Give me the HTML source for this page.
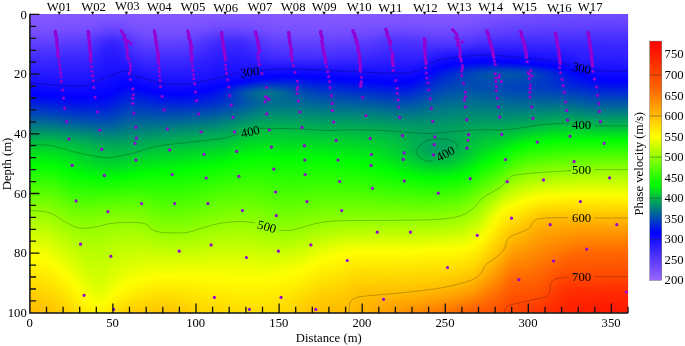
<!DOCTYPE html><html><head><meta charset="utf-8"><title>Phase velocity section</title>
<style>html,body{margin:0;padding:0;background:#fff}svg{display:block}text{font-family:"Liberation Serif", "DejaVu Serif", serif;font-size:12.7px;fill:#000}</style></head><body>
<svg width="685" height="346" viewBox="0 0 685 346">
<defs>
<clipPath id="pc"><rect x="29.9" y="14.1" width="598.2" height="298.7"/></clipPath>
<filter id="hb" x="-5%" y="-5%" width="110%" height="110%" color-interpolation-filters="sRGB"><feGaussianBlur stdDeviation="3 0"/></filter>
<linearGradient id="cb" x1="0" y1="0" x2="0" y2="1"><stop offset="0" stop-color="rgb(255,0,0)"/><stop offset="0.2" stop-color="rgb(255,102,0)"/><stop offset="0.4" stop-color="rgb(255,255,0)"/><stop offset="0.6" stop-color="rgb(0,255,0)"/><stop offset="0.8" stop-color="rgb(0,0,255)"/><stop offset="1" stop-color="rgb(153,102,255)"/></linearGradient>
<linearGradient id="c0" x1="0" y1="0" x2="0" y2="1"><stop offset="0" stop-color="#8559ff"/><stop offset="0.0297" stop-color="#8256ff"/><stop offset="0.0693" stop-color="#754eff"/><stop offset="0.1584" stop-color="#3d29ff"/><stop offset="0.2277" stop-color="#1a11ff"/><stop offset="0.2706" stop-color="#0100ff"/><stop offset="0.2871" stop-color="#0010ef"/><stop offset="0.3333" stop-color="#0044bb"/><stop offset="0.429" stop-color="#00bb44"/><stop offset="0.4554" stop-color="#00d52a"/><stop offset="0.5017" stop-color="#00ff00"/><stop offset="0.604" stop-color="#64ff00"/><stop offset="0.6535" stop-color="#91ff00"/><stop offset="0.7228" stop-color="#c9ff00"/><stop offset="0.7987" stop-color="#ffff00"/><stop offset="0.9274" stop-color="#ffce00"/><stop offset="0.9835" stop-color="#ffbc00"/><stop offset="1" stop-color="#ffb900"/></linearGradient>
<linearGradient id="c1" x1="0" y1="0" x2="0" y2="1"><stop offset="0" stop-color="#8559ff"/><stop offset="0.0297" stop-color="#8256ff"/><stop offset="0.0693" stop-color="#754eff"/><stop offset="0.1584" stop-color="#3d29ff"/><stop offset="0.2277" stop-color="#1a11ff"/><stop offset="0.2706" stop-color="#0100ff"/><stop offset="0.2871" stop-color="#0010ef"/><stop offset="0.3333" stop-color="#0044bb"/><stop offset="0.429" stop-color="#00bb44"/><stop offset="0.4554" stop-color="#00d52a"/><stop offset="0.5017" stop-color="#00ff00"/><stop offset="0.604" stop-color="#64ff00"/><stop offset="0.6535" stop-color="#91ff00"/><stop offset="0.7228" stop-color="#c9ff00"/><stop offset="0.7987" stop-color="#ffff00"/><stop offset="0.9307" stop-color="#ffcd00"/><stop offset="0.9835" stop-color="#ffbc00"/><stop offset="1" stop-color="#ffb900"/></linearGradient>
<linearGradient id="c2" x1="0" y1="0" x2="0" y2="1"><stop offset="0" stop-color="#8559ff"/><stop offset="0.0297" stop-color="#8256ff"/><stop offset="0.0693" stop-color="#754eff"/><stop offset="0.1584" stop-color="#3d29ff"/><stop offset="0.2277" stop-color="#1a11ff"/><stop offset="0.2706" stop-color="#0101ff"/><stop offset="0.2739" stop-color="#0002fd"/><stop offset="0.2871" stop-color="#0010ef"/><stop offset="0.3333" stop-color="#0044bb"/><stop offset="0.429" stop-color="#00bb44"/><stop offset="0.4554" stop-color="#00d629"/><stop offset="0.5017" stop-color="#00ff00"/><stop offset="0.604" stop-color="#64ff00"/><stop offset="0.6535" stop-color="#91ff00"/><stop offset="0.7228" stop-color="#c8ff00"/><stop offset="0.7987" stop-color="#feff00"/><stop offset="0.9307" stop-color="#ffce00"/><stop offset="0.9835" stop-color="#ffbc00"/><stop offset="1" stop-color="#ffb900"/></linearGradient>
<linearGradient id="c3" x1="0" y1="0" x2="0" y2="1"><stop offset="0" stop-color="#8559ff"/><stop offset="0.0297" stop-color="#8256ff"/><stop offset="0.0693" stop-color="#744eff"/><stop offset="0.1584" stop-color="#3d29ff"/><stop offset="0.2277" stop-color="#1a11ff"/><stop offset="0.2706" stop-color="#0101ff"/><stop offset="0.2739" stop-color="#0001fe"/><stop offset="0.3399" stop-color="#004bb4"/><stop offset="0.429" stop-color="#00bb44"/><stop offset="0.4554" stop-color="#00d629"/><stop offset="0.5017" stop-color="#00ff00"/><stop offset="0.6073" stop-color="#67ff00"/><stop offset="0.6535" stop-color="#90ff00"/><stop offset="0.7228" stop-color="#c7ff00"/><stop offset="0.802" stop-color="#ffff00"/><stop offset="0.934" stop-color="#ffce00"/><stop offset="0.9868" stop-color="#ffbc00"/><stop offset="1" stop-color="#ffba00"/></linearGradient>
<linearGradient id="c4" x1="0" y1="0" x2="0" y2="1"><stop offset="0" stop-color="#8559ff"/><stop offset="0.0297" stop-color="#8156ff"/><stop offset="0.0693" stop-color="#744dff"/><stop offset="0.1551" stop-color="#3e2aff"/><stop offset="0.231" stop-color="#1911ff"/><stop offset="0.2739" stop-color="#0000ff"/><stop offset="0.3399" stop-color="#004ab5"/><stop offset="0.429" stop-color="#00bd42"/><stop offset="0.4554" stop-color="#00d728"/><stop offset="0.5017" stop-color="#00ff00"/><stop offset="0.6106" stop-color="#69ff00"/><stop offset="0.6568" stop-color="#92ff00"/><stop offset="0.7261" stop-color="#c7ff00"/><stop offset="0.8086" stop-color="#ffff00"/><stop offset="0.9373" stop-color="#ffcf00"/><stop offset="0.9868" stop-color="#ffbe00"/><stop offset="1" stop-color="#ffbc00"/></linearGradient>
<linearGradient id="c5" x1="0" y1="0" x2="0" y2="1"><stop offset="0" stop-color="#8559ff"/><stop offset="0.0297" stop-color="#8156ff"/><stop offset="0.066" stop-color="#754eff"/><stop offset="0.1551" stop-color="#3e29ff"/><stop offset="0.231" stop-color="#1911ff"/><stop offset="0.2739" stop-color="#0101ff"/><stop offset="0.2772" stop-color="#0002fd"/><stop offset="0.2937" stop-color="#0013ec"/><stop offset="0.3366" stop-color="#0045ba"/><stop offset="0.4125" stop-color="#00aa55"/><stop offset="0.4323" stop-color="#00c13e"/><stop offset="0.4554" stop-color="#00d827"/><stop offset="0.5017" stop-color="#00fe01"/><stop offset="0.5281" stop-color="#17ff00"/><stop offset="0.6172" stop-color="#6dff00"/><stop offset="0.6601" stop-color="#92ff00"/><stop offset="0.7228" stop-color="#c1ff00"/><stop offset="0.8152" stop-color="#ffff00"/><stop offset="0.9538" stop-color="#ffcc00"/><stop offset="0.9868" stop-color="#ffc100"/><stop offset="1" stop-color="#ffbf00"/></linearGradient>
<linearGradient id="c6" x1="0" y1="0" x2="0" y2="1"><stop offset="0" stop-color="#8559ff"/><stop offset="0.0297" stop-color="#8156ff"/><stop offset="0.066" stop-color="#744dff"/><stop offset="0.1551" stop-color="#3d29ff"/><stop offset="0.231" stop-color="#1a11ff"/><stop offset="0.2772" stop-color="#0000ff"/><stop offset="0.3102" stop-color="#0024db"/><stop offset="0.3432" stop-color="#004bb4"/><stop offset="0.4125" stop-color="#00aa55"/><stop offset="0.4323" stop-color="#00c23d"/><stop offset="0.4554" stop-color="#00d827"/><stop offset="0.505" stop-color="#00ff00"/><stop offset="0.5347" stop-color="#1aff00"/><stop offset="0.6172" stop-color="#69ff00"/><stop offset="0.6667" stop-color="#93ff00"/><stop offset="0.7294" stop-color="#c0ff00"/><stop offset="0.8251" stop-color="#feff00"/><stop offset="0.9802" stop-color="#ffc600"/><stop offset="1" stop-color="#ffc200"/></linearGradient>
<linearGradient id="c7" x1="0" y1="0" x2="0" y2="1"><stop offset="0" stop-color="#8559ff"/><stop offset="0.0264" stop-color="#8256ff"/><stop offset="0.0627" stop-color="#754eff"/><stop offset="0.1551" stop-color="#3c28ff"/><stop offset="0.2343" stop-color="#1910ff"/><stop offset="0.2772" stop-color="#0101ff"/><stop offset="0.2805" stop-color="#0002fd"/><stop offset="0.3003" stop-color="#0016e9"/><stop offset="0.3399" stop-color="#0044bb"/><stop offset="0.3663" stop-color="#006798"/><stop offset="0.4125" stop-color="#00a857"/><stop offset="0.4323" stop-color="#00c03f"/><stop offset="0.4587" stop-color="#00d827"/><stop offset="0.5116" stop-color="#00ff00"/><stop offset="0.6205" stop-color="#65ff00"/><stop offset="0.6733" stop-color="#91ff00"/><stop offset="0.7327" stop-color="#bbff00"/><stop offset="0.8383" stop-color="#fdff00"/><stop offset="0.8416" stop-color="#ffff00"/><stop offset="0.9835" stop-color="#ffc900"/><stop offset="1" stop-color="#ffc600"/></linearGradient>
<linearGradient id="c8" x1="0" y1="0" x2="0" y2="1"><stop offset="0" stop-color="#8559ff"/><stop offset="0.0264" stop-color="#8156ff"/><stop offset="0.0594" stop-color="#754eff"/><stop offset="0.1518" stop-color="#3c28ff"/><stop offset="0.2343" stop-color="#1911ff"/><stop offset="0.2805" stop-color="#0000ff"/><stop offset="0.3102" stop-color="#001ee1"/><stop offset="0.3432" stop-color="#0045ba"/><stop offset="0.3663" stop-color="#00639c"/><stop offset="0.4125" stop-color="#00a55a"/><stop offset="0.4323" stop-color="#00bd42"/><stop offset="0.4554" stop-color="#00d22d"/><stop offset="0.5182" stop-color="#00fe01"/><stop offset="0.5413" stop-color="#13ff00"/><stop offset="0.6304" stop-color="#65ff00"/><stop offset="0.6832" stop-color="#90ff00"/><stop offset="0.7426" stop-color="#b9ff00"/><stop offset="0.8548" stop-color="#fdff00"/><stop offset="0.8581" stop-color="#ffff00"/><stop offset="0.9868" stop-color="#ffcd00"/><stop offset="1" stop-color="#ffcb00"/></linearGradient>
<linearGradient id="c9" x1="0" y1="0" x2="0" y2="1"><stop offset="0" stop-color="#8559ff"/><stop offset="0.0231" stop-color="#8257ff"/><stop offset="0.0561" stop-color="#764eff"/><stop offset="0.1089" stop-color="#5337ff"/><stop offset="0.1485" stop-color="#3c28ff"/><stop offset="0.2376" stop-color="#1810ff"/><stop offset="0.2838" stop-color="#0000ff"/><stop offset="0.3135" stop-color="#001fe0"/><stop offset="0.3432" stop-color="#0041be"/><stop offset="0.3663" stop-color="#005fa0"/><stop offset="0.4125" stop-color="#00a15e"/><stop offset="0.4356" stop-color="#00bd42"/><stop offset="0.4587" stop-color="#00d12e"/><stop offset="0.5248" stop-color="#00fd02"/><stop offset="0.5413" stop-color="#0cff00"/><stop offset="0.6403" stop-color="#66ff00"/><stop offset="0.6964" stop-color="#92ff00"/><stop offset="0.7525" stop-color="#b7ff00"/><stop offset="0.8779" stop-color="#ffff00"/><stop offset="0.9868" stop-color="#ffd400"/><stop offset="1" stop-color="#ffd200"/></linearGradient>
<linearGradient id="c10" x1="0" y1="0" x2="0" y2="1"><stop offset="0" stop-color="#8559ff"/><stop offset="0.0231" stop-color="#8257ff"/><stop offset="0.0561" stop-color="#754eff"/><stop offset="0.1089" stop-color="#5237ff"/><stop offset="0.1485" stop-color="#3c28ff"/><stop offset="0.2376" stop-color="#1810ff"/><stop offset="0.2838" stop-color="#0100ff"/><stop offset="0.3069" stop-color="#0015ea"/><stop offset="0.3432" stop-color="#003ec1"/><stop offset="0.3696" stop-color="#00609f"/><stop offset="0.4125" stop-color="#009d62"/><stop offset="0.4356" stop-color="#00b946"/><stop offset="0.4554" stop-color="#00ca35"/><stop offset="0.505" stop-color="#00e916"/><stop offset="0.5314" stop-color="#00fd02"/><stop offset="0.538" stop-color="#04ff00"/><stop offset="0.6238" stop-color="#52ff00"/><stop offset="0.6733" stop-color="#7bff00"/><stop offset="0.7195" stop-color="#9cff00"/><stop offset="0.769" stop-color="#b9ff00"/><stop offset="0.901" stop-color="#ffff00"/><stop offset="0.9868" stop-color="#ffdd00"/><stop offset="1" stop-color="#ffda00"/></linearGradient>
<linearGradient id="c11" x1="0" y1="0" x2="0" y2="1"><stop offset="0" stop-color="#8559ff"/><stop offset="0.0264" stop-color="#8156ff"/><stop offset="0.0594" stop-color="#744eff"/><stop offset="0.1089" stop-color="#5438ff"/><stop offset="0.1485" stop-color="#3d28ff"/><stop offset="0.2376" stop-color="#1810ff"/><stop offset="0.2838" stop-color="#0000ff"/><stop offset="0.3135" stop-color="#001ce3"/><stop offset="0.3465" stop-color="#0041be"/><stop offset="0.3696" stop-color="#005ea1"/><stop offset="0.4125" stop-color="#009a65"/><stop offset="0.4356" stop-color="#00b54a"/><stop offset="0.4554" stop-color="#00c639"/><stop offset="0.505" stop-color="#00e51a"/><stop offset="0.538" stop-color="#00fe01"/><stop offset="0.6205" stop-color="#4cff00"/><stop offset="0.6601" stop-color="#6eff00"/><stop offset="0.703" stop-color="#8eff00"/><stop offset="0.7426" stop-color="#a6ff00"/><stop offset="0.8746" stop-color="#e5ff00"/><stop offset="0.9241" stop-color="#ffff00"/><stop offset="0.9868" stop-color="#ffe500"/><stop offset="1" stop-color="#ffe200"/></linearGradient>
<linearGradient id="c12" x1="0" y1="0" x2="0" y2="1"><stop offset="0" stop-color="#8559ff"/><stop offset="0.0231" stop-color="#8257ff"/><stop offset="0.0561" stop-color="#764eff"/><stop offset="0.1089" stop-color="#5337ff"/><stop offset="0.1485" stop-color="#3c28ff"/><stop offset="0.2343" stop-color="#1810ff"/><stop offset="0.2805" stop-color="#0101ff"/><stop offset="0.2838" stop-color="#0002fd"/><stop offset="0.3168" stop-color="#0021de"/><stop offset="0.3465" stop-color="#0041be"/><stop offset="0.3696" stop-color="#005da2"/><stop offset="0.4158" stop-color="#009b64"/><stop offset="0.4356" stop-color="#00b24d"/><stop offset="0.4587" stop-color="#00c53a"/><stop offset="0.5116" stop-color="#00e51a"/><stop offset="0.5413" stop-color="#00fe01"/><stop offset="0.6535" stop-color="#68ff00"/><stop offset="0.6898" stop-color="#84ff00"/><stop offset="0.7261" stop-color="#9bff00"/><stop offset="0.7756" stop-color="#b3ff00"/><stop offset="0.8911" stop-color="#e2ff00"/><stop offset="0.9472" stop-color="#ffff00"/><stop offset="0.9901" stop-color="#ffec00"/><stop offset="1" stop-color="#ffea00"/></linearGradient>
<linearGradient id="c13" x1="0" y1="0" x2="0" y2="1"><stop offset="0" stop-color="#8559ff"/><stop offset="0.0198" stop-color="#8257ff"/><stop offset="0.0528" stop-color="#744dff"/><stop offset="0.0693" stop-color="#6946ff"/><stop offset="0.1023" stop-color="#4f34ff"/><stop offset="0.1386" stop-color="#3b27ff"/><stop offset="0.231" stop-color="#170fff"/><stop offset="0.2805" stop-color="#0000ff"/><stop offset="0.3168" stop-color="#0021de"/><stop offset="0.3465" stop-color="#003fc0"/><stop offset="0.3696" stop-color="#005ba4"/><stop offset="0.4158" stop-color="#009768"/><stop offset="0.4356" stop-color="#00ad52"/><stop offset="0.4587" stop-color="#00c03f"/><stop offset="0.5083" stop-color="#00df20"/><stop offset="0.5446" stop-color="#00fe01"/><stop offset="0.6469" stop-color="#64ff00"/><stop offset="0.6832" stop-color="#81ff00"/><stop offset="0.7162" stop-color="#96ff00"/><stop offset="0.7723" stop-color="#b0ff00"/><stop offset="0.901" stop-color="#ddff00"/><stop offset="0.934" stop-color="#ecff00"/><stop offset="0.9637" stop-color="#feff00"/><stop offset="0.9901" stop-color="#fff200"/><stop offset="1" stop-color="#ffef00"/></linearGradient>
<linearGradient id="c14" x1="0" y1="0" x2="0" y2="1"><stop offset="0" stop-color="#8559ff"/><stop offset="0.0198" stop-color="#8156ff"/><stop offset="0.0528" stop-color="#6f4aff"/><stop offset="0.066" stop-color="#6543ff"/><stop offset="0.0957" stop-color="#472fff"/><stop offset="0.1155" stop-color="#3a27ff"/><stop offset="0.1584" stop-color="#2a1cff"/><stop offset="0.2277" stop-color="#150eff"/><stop offset="0.2805" stop-color="#0001fe"/><stop offset="0.3168" stop-color="#0020df"/><stop offset="0.3465" stop-color="#003ec1"/><stop offset="0.3696" stop-color="#0058a7"/><stop offset="0.4158" stop-color="#00936c"/><stop offset="0.4356" stop-color="#00a956"/><stop offset="0.4587" stop-color="#00bc43"/><stop offset="0.5083" stop-color="#00dc23"/><stop offset="0.5446" stop-color="#00fc03"/><stop offset="0.5479" stop-color="#01ff00"/><stop offset="0.6139" stop-color="#46ff00"/><stop offset="0.6502" stop-color="#68ff00"/><stop offset="0.6799" stop-color="#81ff00"/><stop offset="0.7096" stop-color="#94ff00"/><stop offset="0.769" stop-color="#afff00"/><stop offset="0.9043" stop-color="#daff00"/><stop offset="0.9406" stop-color="#ebff00"/><stop offset="0.9703" stop-color="#feff00"/><stop offset="0.9934" stop-color="#fff200"/><stop offset="1" stop-color="#fff100"/></linearGradient>
<linearGradient id="c15" x1="0" y1="0" x2="0" y2="1"><stop offset="0" stop-color="#8559ff"/><stop offset="0.0198" stop-color="#8055ff"/><stop offset="0.0495" stop-color="#6e49ff"/><stop offset="0.066" stop-color="#6040ff"/><stop offset="0.0957" stop-color="#3e29ff"/><stop offset="0.1122" stop-color="#3322ff"/><stop offset="0.1419" stop-color="#291bff"/><stop offset="0.2211" stop-color="#150eff"/><stop offset="0.2772" stop-color="#0001fe"/><stop offset="0.3135" stop-color="#001ee1"/><stop offset="0.3465" stop-color="#003dc2"/><stop offset="0.3696" stop-color="#0057a8"/><stop offset="0.4158" stop-color="#00906f"/><stop offset="0.4389" stop-color="#00a956"/><stop offset="0.4587" stop-color="#00b946"/><stop offset="0.5083" stop-color="#00d926"/><stop offset="0.5479" stop-color="#00fe01"/><stop offset="0.6139" stop-color="#47ff00"/><stop offset="0.6469" stop-color="#67ff00"/><stop offset="0.6799" stop-color="#83ff00"/><stop offset="0.7096" stop-color="#97ff00"/><stop offset="0.7657" stop-color="#b0ff00"/><stop offset="0.8977" stop-color="#dcff00"/><stop offset="0.9307" stop-color="#ecff00"/><stop offset="0.9604" stop-color="#feff00"/><stop offset="0.9901" stop-color="#fff000"/><stop offset="1" stop-color="#ffed00"/></linearGradient>
<linearGradient id="c16" x1="0" y1="0" x2="0" y2="1"><stop offset="0" stop-color="#8559ff"/><stop offset="0.0198" stop-color="#8055ff"/><stop offset="0.0528" stop-color="#6a46ff"/><stop offset="0.066" stop-color="#5d3eff"/><stop offset="0.0957" stop-color="#3a27ff"/><stop offset="0.1089" stop-color="#3121ff"/><stop offset="0.132" stop-color="#291bff"/><stop offset="0.2145" stop-color="#140eff"/><stop offset="0.2706" stop-color="#0000ff"/><stop offset="0.3102" stop-color="#001fe0"/><stop offset="0.3432" stop-color="#003dc2"/><stop offset="0.3696" stop-color="#0059a6"/><stop offset="0.4191" stop-color="#00936c"/><stop offset="0.4389" stop-color="#00a758"/><stop offset="0.4587" stop-color="#00b748"/><stop offset="0.5083" stop-color="#00d926"/><stop offset="0.5479" stop-color="#00ff00"/><stop offset="0.6139" stop-color="#48ff00"/><stop offset="0.6469" stop-color="#69ff00"/><stop offset="0.6799" stop-color="#85ff00"/><stop offset="0.7129" stop-color="#9bff00"/><stop offset="0.7657" stop-color="#b4ff00"/><stop offset="0.8845" stop-color="#e0ff00"/><stop offset="0.9439" stop-color="#ffff00"/><stop offset="0.9901" stop-color="#ffe700"/><stop offset="1" stop-color="#ffe500"/></linearGradient>
<linearGradient id="c17" x1="0" y1="0" x2="0" y2="1"><stop offset="0" stop-color="#8559ff"/><stop offset="0.0198" stop-color="#8055ff"/><stop offset="0.0528" stop-color="#6b47ff"/><stop offset="0.066" stop-color="#5f3fff"/><stop offset="0.0957" stop-color="#3c28ff"/><stop offset="0.1089" stop-color="#3322ff"/><stop offset="0.2013" stop-color="#160fff"/><stop offset="0.2607" stop-color="#0001fe"/><stop offset="0.3069" stop-color="#0024db"/><stop offset="0.3432" stop-color="#0044bb"/><stop offset="0.3696" stop-color="#005ea1"/><stop offset="0.4191" stop-color="#00956a"/><stop offset="0.4389" stop-color="#00a857"/><stop offset="0.505" stop-color="#00d827"/><stop offset="0.5446" stop-color="#00fd02"/><stop offset="0.5479" stop-color="#02ff00"/><stop offset="0.6139" stop-color="#49ff00"/><stop offset="0.6502" stop-color="#6dff00"/><stop offset="0.6832" stop-color="#89ff00"/><stop offset="0.7195" stop-color="#a0ff00"/><stop offset="0.7657" stop-color="#b7ff00"/><stop offset="0.8713" stop-color="#e2ff00"/><stop offset="0.9241" stop-color="#ffff00"/><stop offset="0.9868" stop-color="#ffdf00"/><stop offset="1" stop-color="#ffdc00"/></linearGradient>
<linearGradient id="c18" x1="0" y1="0" x2="0" y2="1"><stop offset="0" stop-color="#8559ff"/><stop offset="0.0198" stop-color="#8056ff"/><stop offset="0.0528" stop-color="#6d49ff"/><stop offset="0.066" stop-color="#6342ff"/><stop offset="0.0957" stop-color="#442dff"/><stop offset="0.1089" stop-color="#3a27ff"/><stop offset="0.1617" stop-color="#2619ff"/><stop offset="0.2475" stop-color="#0000ff"/><stop offset="0.3366" stop-color="#0046b9"/><stop offset="0.3663" stop-color="#00619e"/><stop offset="0.4323" stop-color="#00a45b"/><stop offset="0.5017" stop-color="#00d827"/><stop offset="0.5413" stop-color="#00fc03"/><stop offset="0.5446" stop-color="#01ff00"/><stop offset="0.6139" stop-color="#4bff00"/><stop offset="0.6535" stop-color="#71ff00"/><stop offset="0.6898" stop-color="#8eff00"/><stop offset="0.7261" stop-color="#a5ff00"/><stop offset="0.8548" stop-color="#e0ff00"/><stop offset="0.9109" stop-color="#fffe00"/><stop offset="0.9439" stop-color="#ffef00"/><stop offset="0.9868" stop-color="#ffd700"/><stop offset="1" stop-color="#ffd300"/></linearGradient>
<linearGradient id="c19" x1="0" y1="0" x2="0" y2="1"><stop offset="0" stop-color="#8559ff"/><stop offset="0.0198" stop-color="#8256ff"/><stop offset="0.0495" stop-color="#744dff"/><stop offset="0.066" stop-color="#6946ff"/><stop offset="0.0957" stop-color="#4f35ff"/><stop offset="0.1089" stop-color="#462eff"/><stop offset="0.1551" stop-color="#3020ff"/><stop offset="0.2442" stop-color="#0000ff"/><stop offset="0.3432" stop-color="#0051ae"/><stop offset="0.429" stop-color="#00a25d"/><stop offset="0.4983" stop-color="#00d827"/><stop offset="0.538" stop-color="#00fc03"/><stop offset="0.5413" stop-color="#00ff00"/><stop offset="0.6139" stop-color="#4cff00"/><stop offset="0.6568" stop-color="#74ff00"/><stop offset="0.6931" stop-color="#91ff00"/><stop offset="0.7327" stop-color="#a9ff00"/><stop offset="0.8482" stop-color="#e1ff00"/><stop offset="0.8977" stop-color="#feff00"/><stop offset="0.934" stop-color="#ffef00"/><stop offset="0.9868" stop-color="#ffd100"/><stop offset="1" stop-color="#ffcd00"/></linearGradient>
<linearGradient id="c20" x1="0" y1="0" x2="0" y2="1"><stop offset="0" stop-color="#8559ff"/><stop offset="0.0264" stop-color="#8156ff"/><stop offset="0.0627" stop-color="#724cff"/><stop offset="0.1056" stop-color="#5438ff"/><stop offset="0.2475" stop-color="#0000ff"/><stop offset="0.3531" stop-color="#005ba4"/><stop offset="0.4323" stop-color="#00a659"/><stop offset="0.4983" stop-color="#00db24"/><stop offset="0.5347" stop-color="#00fc03"/><stop offset="0.538" stop-color="#01ff00"/><stop offset="0.6139" stop-color="#4dff00"/><stop offset="0.6601" stop-color="#77ff00"/><stop offset="0.6997" stop-color="#95ff00"/><stop offset="0.7426" stop-color="#afff00"/><stop offset="0.8383" stop-color="#e0ff00"/><stop offset="0.8911" stop-color="#ffff00"/><stop offset="0.934" stop-color="#ffea00"/><stop offset="0.9868" stop-color="#ffcd00"/><stop offset="1" stop-color="#ffc900"/></linearGradient>
<linearGradient id="c21" x1="0" y1="0" x2="0" y2="1"><stop offset="0" stop-color="#8559ff"/><stop offset="0.0297" stop-color="#8156ff"/><stop offset="0.0693" stop-color="#724cff"/><stop offset="0.2112" stop-color="#1810ff"/><stop offset="0.2541" stop-color="#0001fe"/><stop offset="0.3531" stop-color="#005ca3"/><stop offset="0.4323" stop-color="#00a857"/><stop offset="0.5314" stop-color="#00fd02"/><stop offset="0.5347" stop-color="#01ff00"/><stop offset="0.637" stop-color="#61ff00"/><stop offset="0.6931" stop-color="#8fff00"/><stop offset="0.736" stop-color="#abff00"/><stop offset="0.8383" stop-color="#e2ff00"/><stop offset="0.8812" stop-color="#fdff00"/><stop offset="0.9241" stop-color="#ffec00"/><stop offset="0.9868" stop-color="#ffca00"/><stop offset="1" stop-color="#ffc600"/></linearGradient>
<linearGradient id="c22" x1="0" y1="0" x2="0" y2="1"><stop offset="0" stop-color="#8559ff"/><stop offset="0.0297" stop-color="#8156ff"/><stop offset="0.0693" stop-color="#744dff"/><stop offset="0.2574" stop-color="#0100ff"/><stop offset="0.3366" stop-color="#004cb3"/><stop offset="0.429" stop-color="#00a857"/><stop offset="0.5314" stop-color="#00ff00"/><stop offset="0.6271" stop-color="#55ff00"/><stop offset="0.6931" stop-color="#89ff00"/><stop offset="0.7393" stop-color="#a9ff00"/><stop offset="0.835" stop-color="#e2ff00"/><stop offset="0.8779" stop-color="#ffff00"/><stop offset="0.9241" stop-color="#ffea00"/><stop offset="0.9868" stop-color="#ffc900"/><stop offset="1" stop-color="#ffc500"/></linearGradient>
<linearGradient id="c23" x1="0" y1="0" x2="0" y2="1"><stop offset="0" stop-color="#8559ff"/><stop offset="0.033" stop-color="#8156ff"/><stop offset="0.0726" stop-color="#734dff"/><stop offset="0.1617" stop-color="#3b27ff"/><stop offset="0.264" stop-color="#0000ff"/><stop offset="0.4257" stop-color="#00a857"/><stop offset="0.4587" stop-color="#00c639"/><stop offset="0.5281" stop-color="#00fe01"/><stop offset="0.6337" stop-color="#55ff00"/><stop offset="0.7063" stop-color="#8cff00"/><stop offset="0.8746" stop-color="#ffff00"/><stop offset="0.9868" stop-color="#ffc700"/><stop offset="1" stop-color="#ffc400"/></linearGradient>
<linearGradient id="c24" x1="0" y1="0" x2="0" y2="1"><stop offset="0" stop-color="#8559ff"/><stop offset="0.0297" stop-color="#8256ff"/><stop offset="0.0693" stop-color="#754eff"/><stop offset="0.1584" stop-color="#3d29ff"/><stop offset="0.2673" stop-color="#0100ff"/><stop offset="0.2904" stop-color="#0017e8"/><stop offset="0.3927" stop-color="#008877"/><stop offset="0.4257" stop-color="#00ab54"/><stop offset="0.462" stop-color="#00cb34"/><stop offset="0.5281" stop-color="#00ff00"/><stop offset="0.7294" stop-color="#97ff00"/><stop offset="0.8713" stop-color="#feff00"/><stop offset="0.9868" stop-color="#ffc600"/><stop offset="1" stop-color="#ffc300"/></linearGradient>
<linearGradient id="c25" x1="0" y1="0" x2="0" y2="1"><stop offset="0" stop-color="#8559ff"/><stop offset="0.0297" stop-color="#8256ff"/><stop offset="0.0693" stop-color="#754eff"/><stop offset="0.1584" stop-color="#3d29ff"/><stop offset="0.231" stop-color="#1810ff"/><stop offset="0.2706" stop-color="#0000ff"/><stop offset="0.3894" stop-color="#008679"/><stop offset="0.4224" stop-color="#00a956"/><stop offset="0.462" stop-color="#00cd32"/><stop offset="0.5248" stop-color="#00fe01"/><stop offset="0.6997" stop-color="#7fff00"/><stop offset="0.8713" stop-color="#ffff00"/><stop offset="0.9868" stop-color="#ffc600"/><stop offset="1" stop-color="#ffc300"/></linearGradient>
<linearGradient id="c26" x1="0" y1="0" x2="0" y2="1"><stop offset="0" stop-color="#8559ff"/><stop offset="0.0297" stop-color="#8256ff"/><stop offset="0.0693" stop-color="#754eff"/><stop offset="0.1584" stop-color="#3d29ff"/><stop offset="0.2277" stop-color="#1b12ff"/><stop offset="0.2706" stop-color="#0101ff"/><stop offset="0.2739" stop-color="#0002fd"/><stop offset="0.3828" stop-color="#00807f"/><stop offset="0.4191" stop-color="#00a758"/><stop offset="0.462" stop-color="#00ce31"/><stop offset="0.5248" stop-color="#00ff00"/><stop offset="0.703" stop-color="#80ff00"/><stop offset="0.8713" stop-color="#ffff00"/><stop offset="0.9835" stop-color="#ffc900"/><stop offset="1" stop-color="#ffc500"/></linearGradient>
<linearGradient id="c27" x1="0" y1="0" x2="0" y2="1"><stop offset="0" stop-color="#8559ff"/><stop offset="0.0297" stop-color="#8256ff"/><stop offset="0.0693" stop-color="#744eff"/><stop offset="0.1584" stop-color="#3d29ff"/><stop offset="0.231" stop-color="#1911ff"/><stop offset="0.2739" stop-color="#0001fe"/><stop offset="0.3795" stop-color="#007e81"/><stop offset="0.4158" stop-color="#00a659"/><stop offset="0.4587" stop-color="#00cd32"/><stop offset="0.5215" stop-color="#00fe01"/><stop offset="0.703" stop-color="#80ff00"/><stop offset="0.868" stop-color="#feff00"/><stop offset="0.9835" stop-color="#ffcb00"/><stop offset="1" stop-color="#ffc700"/></linearGradient>
<linearGradient id="c28" x1="0" y1="0" x2="0" y2="1"><stop offset="0" stop-color="#8559ff"/><stop offset="0.0297" stop-color="#8156ff"/><stop offset="0.066" stop-color="#754eff"/><stop offset="0.1551" stop-color="#3e29ff"/><stop offset="0.231" stop-color="#1911ff"/><stop offset="0.2706" stop-color="#0101ff"/><stop offset="0.2739" stop-color="#0002fd"/><stop offset="0.2904" stop-color="#0014eb"/><stop offset="0.3762" stop-color="#007c83"/><stop offset="0.4125" stop-color="#00a45b"/><stop offset="0.4587" stop-color="#00ce31"/><stop offset="0.5182" stop-color="#00fd02"/><stop offset="0.5215" stop-color="#01ff00"/><stop offset="0.703" stop-color="#80ff00"/><stop offset="0.868" stop-color="#feff00"/><stop offset="0.9835" stop-color="#ffcd00"/><stop offset="1" stop-color="#ffc900"/></linearGradient>
<linearGradient id="c29" x1="0" y1="0" x2="0" y2="1"><stop offset="0" stop-color="#8559ff"/><stop offset="0.0264" stop-color="#8256ff"/><stop offset="0.0627" stop-color="#754eff"/><stop offset="0.1485" stop-color="#3f2aff"/><stop offset="0.2277" stop-color="#1a11ff"/><stop offset="0.2706" stop-color="#0000ff"/><stop offset="0.3036" stop-color="#0025da"/><stop offset="0.3795" stop-color="#00827d"/><stop offset="0.4125" stop-color="#00a659"/><stop offset="0.4587" stop-color="#00d02f"/><stop offset="0.5182" stop-color="#00ff00"/><stop offset="0.7063" stop-color="#85ff00"/><stop offset="0.868" stop-color="#feff00"/><stop offset="0.9835" stop-color="#ffd000"/><stop offset="1" stop-color="#ffcd00"/></linearGradient>
<linearGradient id="c30" x1="0" y1="0" x2="0" y2="1"><stop offset="0" stop-color="#8559ff"/><stop offset="0.0264" stop-color="#8156ff"/><stop offset="0.0594" stop-color="#744dff"/><stop offset="0.1056" stop-color="#5438ff"/><stop offset="0.1353" stop-color="#432cff"/><stop offset="0.165" stop-color="#3322ff"/><stop offset="0.2277" stop-color="#1910ff"/><stop offset="0.2673" stop-color="#0101ff"/><stop offset="0.2706" stop-color="#0002fd"/><stop offset="0.297" stop-color="#001fe0"/><stop offset="0.3729" stop-color="#007c83"/><stop offset="0.4092" stop-color="#00a55a"/><stop offset="0.4554" stop-color="#00cf30"/><stop offset="0.5149" stop-color="#00ff00"/><stop offset="0.8713" stop-color="#ffff00"/><stop offset="0.9802" stop-color="#ffd500"/><stop offset="1" stop-color="#ffd000"/></linearGradient>
<linearGradient id="c31" x1="0" y1="0" x2="0" y2="1"><stop offset="0" stop-color="#8559ff"/><stop offset="0.0198" stop-color="#8257ff"/><stop offset="0.0528" stop-color="#744eff"/><stop offset="0.1188" stop-color="#472fff"/><stop offset="0.1584" stop-color="#3322ff"/><stop offset="0.2244" stop-color="#1810ff"/><stop offset="0.264" stop-color="#0000ff"/><stop offset="0.3003" stop-color="#0026d9"/><stop offset="0.3729" stop-color="#007e81"/><stop offset="0.4092" stop-color="#00a758"/><stop offset="0.4554" stop-color="#00d12e"/><stop offset="0.5116" stop-color="#00ff00"/><stop offset="0.6106" stop-color="#49ff00"/><stop offset="0.7921" stop-color="#c9ff00"/><stop offset="0.8713" stop-color="#ffff00"/><stop offset="0.9802" stop-color="#ffd800"/><stop offset="1" stop-color="#ffd400"/></linearGradient>
<linearGradient id="c32" x1="0" y1="0" x2="0" y2="1"><stop offset="0" stop-color="#8559ff"/><stop offset="0.0165" stop-color="#8357ff"/><stop offset="0.0429" stop-color="#7750ff"/><stop offset="0.0627" stop-color="#6c48ff"/><stop offset="0.0957" stop-color="#4f35ff"/><stop offset="0.1122" stop-color="#442dff"/><stop offset="0.1551" stop-color="#3120ff"/><stop offset="0.2178" stop-color="#1911ff"/><stop offset="0.2574" stop-color="#0101ff"/><stop offset="0.2607" stop-color="#0002fd"/><stop offset="0.3036" stop-color="#002dd2"/><stop offset="0.3729" stop-color="#00817e"/><stop offset="0.4059" stop-color="#00a659"/><stop offset="0.4488" stop-color="#00ce31"/><stop offset="0.5083" stop-color="#00ff00"/><stop offset="0.5908" stop-color="#3fff00"/><stop offset="0.7162" stop-color="#97ff00"/><stop offset="0.8713" stop-color="#feff00"/><stop offset="0.9835" stop-color="#ffd800"/><stop offset="1" stop-color="#ffd500"/></linearGradient>
<linearGradient id="c33" x1="0" y1="0" x2="0" y2="1"><stop offset="0" stop-color="#8559ff"/><stop offset="0.0198" stop-color="#8156ff"/><stop offset="0.0528" stop-color="#704aff"/><stop offset="0.0693" stop-color="#6342ff"/><stop offset="0.0957" stop-color="#4931ff"/><stop offset="0.1122" stop-color="#3e29ff"/><stop offset="0.2145" stop-color="#1810ff"/><stop offset="0.231" stop-color="#100aff"/><stop offset="0.2541" stop-color="#0001fe"/><stop offset="0.2673" stop-color="#000ff0"/><stop offset="0.3069" stop-color="#0034cb"/><stop offset="0.3729" stop-color="#00847b"/><stop offset="0.4059" stop-color="#00a857"/><stop offset="0.4488" stop-color="#00d02f"/><stop offset="0.505" stop-color="#00ff00"/><stop offset="0.5941" stop-color="#45ff00"/><stop offset="0.703" stop-color="#92ff00"/><stop offset="0.7789" stop-color="#c4ff00"/><stop offset="0.8746" stop-color="#ffff00"/><stop offset="0.9835" stop-color="#ffd900"/><stop offset="1" stop-color="#ffd600"/></linearGradient>
<linearGradient id="c34" x1="0" y1="0" x2="0" y2="1"><stop offset="0" stop-color="#8559ff"/><stop offset="0.0198" stop-color="#8156ff"/><stop offset="0.0528" stop-color="#6e49ff"/><stop offset="0.066" stop-color="#6342ff"/><stop offset="0.0957" stop-color="#442dff"/><stop offset="0.1089" stop-color="#3a27ff"/><stop offset="0.132" stop-color="#3121ff"/><stop offset="0.2145" stop-color="#160fff"/><stop offset="0.231" stop-color="#0d09ff"/><stop offset="0.2475" stop-color="#0000ff"/><stop offset="0.2673" stop-color="#0018e7"/><stop offset="0.2937" stop-color="#002bd4"/><stop offset="0.3069" stop-color="#0038c7"/><stop offset="0.3729" stop-color="#008778"/><stop offset="0.4059" stop-color="#00ab54"/><stop offset="0.4488" stop-color="#00d22d"/><stop offset="0.5017" stop-color="#00ff00"/><stop offset="0.5941" stop-color="#48ff00"/><stop offset="0.6964" stop-color="#90ff00"/><stop offset="0.769" stop-color="#bfff00"/><stop offset="0.8746" stop-color="#feff00"/><stop offset="0.9835" stop-color="#ffda00"/><stop offset="1" stop-color="#ffd700"/></linearGradient>
<linearGradient id="c35" x1="0" y1="0" x2="0" y2="1"><stop offset="0" stop-color="#8559ff"/><stop offset="0.0198" stop-color="#8056ff"/><stop offset="0.0528" stop-color="#6d48ff"/><stop offset="0.066" stop-color="#6241ff"/><stop offset="0.0957" stop-color="#412cff"/><stop offset="0.1089" stop-color="#3825ff"/><stop offset="0.2079" stop-color="#170fff"/><stop offset="0.2244" stop-color="#0e0aff"/><stop offset="0.2409" stop-color="#0101ff"/><stop offset="0.2442" stop-color="#0003fc"/><stop offset="0.2574" stop-color="#0018e7"/><stop offset="0.2673" stop-color="#0023dc"/><stop offset="0.2937" stop-color="#0032cd"/><stop offset="0.3102" stop-color="#0040bf"/><stop offset="0.3696" stop-color="#008778"/><stop offset="0.4026" stop-color="#00ab54"/><stop offset="0.4983" stop-color="#00ff00"/><stop offset="0.5908" stop-color="#48ff00"/><stop offset="0.6898" stop-color="#8eff00"/><stop offset="0.7624" stop-color="#bcff00"/><stop offset="0.8746" stop-color="#feff00"/><stop offset="0.9835" stop-color="#ffdb00"/><stop offset="1" stop-color="#ffd800"/></linearGradient>
<linearGradient id="c36" x1="0" y1="0" x2="0" y2="1"><stop offset="0" stop-color="#8559ff"/><stop offset="0.0198" stop-color="#8056ff"/><stop offset="0.0528" stop-color="#6c48ff"/><stop offset="0.066" stop-color="#6141ff"/><stop offset="0.0957" stop-color="#412bff"/><stop offset="0.1089" stop-color="#3825ff"/><stop offset="0.2046" stop-color="#160fff"/><stop offset="0.2211" stop-color="#0e09ff"/><stop offset="0.2376" stop-color="#0001fe"/><stop offset="0.2541" stop-color="#001fe0"/><stop offset="0.264" stop-color="#002ed1"/><stop offset="0.2739" stop-color="#0035ca"/><stop offset="0.297" stop-color="#003dc2"/><stop offset="0.3069" stop-color="#0044bb"/><stop offset="0.3696" stop-color="#008d72"/><stop offset="0.396" stop-color="#00a956"/><stop offset="0.4356" stop-color="#00ce31"/><stop offset="0.4917" stop-color="#00fd02"/><stop offset="0.495" stop-color="#01ff00"/><stop offset="0.6007" stop-color="#52ff00"/><stop offset="0.6964" stop-color="#94ff00"/><stop offset="0.769" stop-color="#c1ff00"/><stop offset="0.8779" stop-color="#ffff00"/><stop offset="0.9835" stop-color="#ffdc00"/><stop offset="1" stop-color="#ffd900"/></linearGradient>
<linearGradient id="c37" x1="0" y1="0" x2="0" y2="1"><stop offset="0" stop-color="#8559ff"/><stop offset="0.0198" stop-color="#8056ff"/><stop offset="0.0528" stop-color="#6d48ff"/><stop offset="0.066" stop-color="#6241ff"/><stop offset="0.0957" stop-color="#422cff"/><stop offset="0.1089" stop-color="#3825ff"/><stop offset="0.2013" stop-color="#160fff"/><stop offset="0.2178" stop-color="#0d09ff"/><stop offset="0.231" stop-color="#0201ff"/><stop offset="0.2343" stop-color="#0002fd"/><stop offset="0.2541" stop-color="#002cd3"/><stop offset="0.264" stop-color="#003cc3"/><stop offset="0.2739" stop-color="#0043bc"/><stop offset="0.2937" stop-color="#0045ba"/><stop offset="0.3069" stop-color="#004cb3"/><stop offset="0.3927" stop-color="#00ab54"/><stop offset="0.4356" stop-color="#00d22d"/><stop offset="0.4884" stop-color="#00fe01"/><stop offset="0.5875" stop-color="#4aff00"/><stop offset="0.6931" stop-color="#93ff00"/><stop offset="0.769" stop-color="#c2ff00"/><stop offset="0.8779" stop-color="#ffff00"/><stop offset="0.9835" stop-color="#ffdd00"/><stop offset="1" stop-color="#ffda00"/></linearGradient>
<linearGradient id="c38" x1="0" y1="0" x2="0" y2="1"><stop offset="0" stop-color="#8559ff"/><stop offset="0.0198" stop-color="#8156ff"/><stop offset="0.0528" stop-color="#6e49ff"/><stop offset="0.066" stop-color="#6342ff"/><stop offset="0.0957" stop-color="#442dff"/><stop offset="0.1089" stop-color="#3b27ff"/><stop offset="0.1947" stop-color="#1810ff"/><stop offset="0.2145" stop-color="#0d09ff"/><stop offset="0.2277" stop-color="#0201ff"/><stop offset="0.231" stop-color="#0003fc"/><stop offset="0.2541" stop-color="#0039c6"/><stop offset="0.264" stop-color="#004ab5"/><stop offset="0.2739" stop-color="#0051ae"/><stop offset="0.2937" stop-color="#004eb1"/><stop offset="0.3069" stop-color="#0054ab"/><stop offset="0.3894" stop-color="#00ad52"/><stop offset="0.4323" stop-color="#00d42b"/><stop offset="0.4851" stop-color="#00ff00"/><stop offset="0.5776" stop-color="#45ff00"/><stop offset="0.6931" stop-color="#93ff00"/><stop offset="0.7756" stop-color="#c5ff00"/><stop offset="0.8779" stop-color="#ffff00"/><stop offset="0.9835" stop-color="#ffde00"/><stop offset="1" stop-color="#ffdb00"/></linearGradient>
<linearGradient id="c39" x1="0" y1="0" x2="0" y2="1"><stop offset="0" stop-color="#8559ff"/><stop offset="0.0165" stop-color="#8257ff"/><stop offset="0.0462" stop-color="#734dff"/><stop offset="0.066" stop-color="#6644ff"/><stop offset="0.0924" stop-color="#4c32ff"/><stop offset="0.1056" stop-color="#412bff"/><stop offset="0.1749" stop-color="#2217ff"/><stop offset="0.2079" stop-color="#0f0aff"/><stop offset="0.2244" stop-color="#0101ff"/><stop offset="0.2277" stop-color="#0004fb"/><stop offset="0.231" stop-color="#000bf4"/><stop offset="0.2541" stop-color="#0046b9"/><stop offset="0.264" stop-color="#0058a7"/><stop offset="0.2739" stop-color="#005ea1"/><stop offset="0.297" stop-color="#0058a7"/><stop offset="0.3102" stop-color="#005fa0"/><stop offset="0.3894" stop-color="#00b24d"/><stop offset="0.4323" stop-color="#00d728"/><stop offset="0.4818" stop-color="#00ff00"/><stop offset="0.5743" stop-color="#43ff00"/><stop offset="0.6997" stop-color="#96ff00"/><stop offset="0.7855" stop-color="#cbff00"/><stop offset="0.8779" stop-color="#ffff00"/><stop offset="0.9802" stop-color="#ffdf00"/><stop offset="1" stop-color="#ffdc00"/></linearGradient>
<linearGradient id="c40" x1="0" y1="0" x2="0" y2="1"><stop offset="0" stop-color="#8559ff"/><stop offset="0.0231" stop-color="#8055ff"/><stop offset="0.0561" stop-color="#704aff"/><stop offset="0.1023" stop-color="#4931ff"/><stop offset="0.1617" stop-color="#2c1dff"/><stop offset="0.2046" stop-color="#0f0aff"/><stop offset="0.2211" stop-color="#0101ff"/><stop offset="0.2244" stop-color="#0004fb"/><stop offset="0.231" stop-color="#0012ed"/><stop offset="0.2541" stop-color="#0051ae"/><stop offset="0.264" stop-color="#00649b"/><stop offset="0.2739" stop-color="#006996"/><stop offset="0.297" stop-color="#00619e"/><stop offset="0.3102" stop-color="#006798"/><stop offset="0.3861" stop-color="#00b34c"/><stop offset="0.429" stop-color="#00d827"/><stop offset="0.4785" stop-color="#00ff00"/><stop offset="0.5677" stop-color="#3eff00"/><stop offset="0.7162" stop-color="#9fff00"/><stop offset="0.7987" stop-color="#d2ff00"/><stop offset="0.8779" stop-color="#ffff00"/><stop offset="0.9802" stop-color="#ffdf00"/><stop offset="1" stop-color="#ffdb00"/></linearGradient>
<linearGradient id="c41" x1="0" y1="0" x2="0" y2="1"><stop offset="0" stop-color="#8559ff"/><stop offset="0.0231" stop-color="#8156ff"/><stop offset="0.0594" stop-color="#714bff"/><stop offset="0.1056" stop-color="#4e34ff"/><stop offset="0.1584" stop-color="#3221ff"/><stop offset="0.2178" stop-color="#0100ff"/><stop offset="0.2211" stop-color="#0004fb"/><stop offset="0.231" stop-color="#0019e6"/><stop offset="0.2541" stop-color="#0059a6"/><stop offset="0.264" stop-color="#006c93"/><stop offset="0.2739" stop-color="#00718e"/><stop offset="0.297" stop-color="#006897"/><stop offset="0.3102" stop-color="#006d92"/><stop offset="0.3894" stop-color="#00ba45"/><stop offset="0.4752" stop-color="#00fd02"/><stop offset="0.5644" stop-color="#3bff00"/><stop offset="0.7723" stop-color="#bfff00"/><stop offset="0.8779" stop-color="#ffff00"/><stop offset="0.9802" stop-color="#ffde00"/><stop offset="1" stop-color="#ffdb00"/></linearGradient>
<linearGradient id="c42" x1="0" y1="0" x2="0" y2="1"><stop offset="0" stop-color="#8559ff"/><stop offset="0.0297" stop-color="#8055ff"/><stop offset="0.066" stop-color="#704bff"/><stop offset="0.1056" stop-color="#5538ff"/><stop offset="0.1551" stop-color="#3825ff"/><stop offset="0.2145" stop-color="#0101ff"/><stop offset="0.2178" stop-color="#0003fc"/><stop offset="0.2277" stop-color="#0016e9"/><stop offset="0.2376" stop-color="#002ed1"/><stop offset="0.2541" stop-color="#005ca3"/><stop offset="0.2607" stop-color="#006a95"/><stop offset="0.2673" stop-color="#00728d"/><stop offset="0.2772" stop-color="#00748b"/><stop offset="0.297" stop-color="#006d92"/><stop offset="0.3102" stop-color="#00728d"/><stop offset="0.3927" stop-color="#00be41"/><stop offset="0.4752" stop-color="#00fd02"/><stop offset="0.4785" stop-color="#01ff00"/><stop offset="0.538" stop-color="#28ff00"/><stop offset="0.6799" stop-color="#80ff00"/><stop offset="0.8746" stop-color="#fdff00"/><stop offset="0.9802" stop-color="#ffde00"/><stop offset="1" stop-color="#ffda00"/></linearGradient>
<linearGradient id="c43" x1="0" y1="0" x2="0" y2="1"><stop offset="0" stop-color="#8559ff"/><stop offset="0.0264" stop-color="#8256ff"/><stop offset="0.0594" stop-color="#764fff"/><stop offset="0.1419" stop-color="#452eff"/><stop offset="0.1584" stop-color="#3826ff"/><stop offset="0.1881" stop-color="#1810ff"/><stop offset="0.2145" stop-color="#0000ff"/><stop offset="0.231" stop-color="#001fe0"/><stop offset="0.2574" stop-color="#00619e"/><stop offset="0.2673" stop-color="#006f90"/><stop offset="0.2772" stop-color="#00728d"/><stop offset="0.297" stop-color="#006e91"/><stop offset="0.3102" stop-color="#00748b"/><stop offset="0.396" stop-color="#00c13e"/><stop offset="0.4785" stop-color="#00fe01"/><stop offset="0.6898" stop-color="#83ff00"/><stop offset="0.8251" stop-color="#dfff00"/><stop offset="0.8746" stop-color="#ffff00"/><stop offset="0.967" stop-color="#ffe100"/><stop offset="1" stop-color="#ffd900"/></linearGradient>
<linearGradient id="c44" x1="0" y1="0" x2="0" y2="1"><stop offset="0" stop-color="#8559ff"/><stop offset="0.0264" stop-color="#8257ff"/><stop offset="0.0627" stop-color="#764eff"/><stop offset="0.1386" stop-color="#4830ff"/><stop offset="0.1584" stop-color="#3a26ff"/><stop offset="0.1881" stop-color="#1810ff"/><stop offset="0.2145" stop-color="#0001fe"/><stop offset="0.231" stop-color="#001fe0"/><stop offset="0.2574" stop-color="#005ca3"/><stop offset="0.2673" stop-color="#006a95"/><stop offset="0.2772" stop-color="#006e91"/><stop offset="0.297" stop-color="#006d92"/><stop offset="0.3102" stop-color="#00748b"/><stop offset="0.3993" stop-color="#00c33c"/><stop offset="0.4818" stop-color="#00ff00"/><stop offset="0.6964" stop-color="#84ff00"/><stop offset="0.8317" stop-color="#e5ff00"/><stop offset="0.8713" stop-color="#ffff00"/><stop offset="0.9571" stop-color="#ffe200"/><stop offset="1" stop-color="#ffd800"/></linearGradient>
<linearGradient id="c45" x1="0" y1="0" x2="0" y2="1"><stop offset="0" stop-color="#8559ff"/><stop offset="0.0264" stop-color="#8257ff"/><stop offset="0.0627" stop-color="#764fff"/><stop offset="0.1353" stop-color="#4c32ff"/><stop offset="0.1584" stop-color="#3a27ff"/><stop offset="0.1881" stop-color="#170fff"/><stop offset="0.2112" stop-color="#0201ff"/><stop offset="0.2145" stop-color="#0002fd"/><stop offset="0.231" stop-color="#001ee1"/><stop offset="0.2574" stop-color="#0056a9"/><stop offset="0.2673" stop-color="#00639c"/><stop offset="0.2772" stop-color="#006897"/><stop offset="0.297" stop-color="#006c93"/><stop offset="0.3069" stop-color="#00728d"/><stop offset="0.3993" stop-color="#00c33c"/><stop offset="0.4818" stop-color="#00fe01"/><stop offset="0.6964" stop-color="#83ff00"/><stop offset="0.7393" stop-color="#a1ff00"/><stop offset="0.8284" stop-color="#e5ff00"/><stop offset="0.8647" stop-color="#feff00"/><stop offset="0.9538" stop-color="#ffe100"/><stop offset="1" stop-color="#ffd600"/></linearGradient>
<linearGradient id="c46" x1="0" y1="0" x2="0" y2="1"><stop offset="0" stop-color="#8559ff"/><stop offset="0.0264" stop-color="#8257ff"/><stop offset="0.0627" stop-color="#774fff"/><stop offset="0.1353" stop-color="#4c33ff"/><stop offset="0.1584" stop-color="#3b27ff"/><stop offset="0.1848" stop-color="#1a11ff"/><stop offset="0.2112" stop-color="#0101ff"/><stop offset="0.2145" stop-color="#0003fc"/><stop offset="0.2211" stop-color="#000df2"/><stop offset="0.2541" stop-color="#0049b6"/><stop offset="0.2673" stop-color="#005ba4"/><stop offset="0.3069" stop-color="#00718e"/><stop offset="0.3993" stop-color="#00c23d"/><stop offset="0.4818" stop-color="#00fe01"/><stop offset="0.6931" stop-color="#81ff00"/><stop offset="0.7327" stop-color="#9dff00"/><stop offset="0.8218" stop-color="#e3ff00"/><stop offset="0.8614" stop-color="#ffff00"/><stop offset="0.9505" stop-color="#ffdf00"/><stop offset="0.9868" stop-color="#ffd400"/><stop offset="1" stop-color="#ffd200"/></linearGradient>
<linearGradient id="c47" x1="0" y1="0" x2="0" y2="1"><stop offset="0" stop-color="#8559ff"/><stop offset="0.0264" stop-color="#8257ff"/><stop offset="0.0627" stop-color="#774fff"/><stop offset="0.132" stop-color="#4f35ff"/><stop offset="0.1551" stop-color="#3f2aff"/><stop offset="0.1881" stop-color="#170fff"/><stop offset="0.2112" stop-color="#0201ff"/><stop offset="0.2145" stop-color="#0002fd"/><stop offset="0.2541" stop-color="#0043bc"/><stop offset="0.2673" stop-color="#0054ab"/><stop offset="0.3069" stop-color="#00708f"/><stop offset="0.363" stop-color="#00a35c"/><stop offset="0.4092" stop-color="#00ca35"/><stop offset="0.4818" stop-color="#00fe01"/><stop offset="0.6898" stop-color="#81ff00"/><stop offset="0.7327" stop-color="#a0ff00"/><stop offset="0.8548" stop-color="#feff00"/><stop offset="0.9538" stop-color="#ffda00"/><stop offset="0.9868" stop-color="#ffcf00"/><stop offset="1" stop-color="#ffcd00"/></linearGradient>
<linearGradient id="c48" x1="0" y1="0" x2="0" y2="1"><stop offset="0" stop-color="#8559ff"/><stop offset="0.0264" stop-color="#8257ff"/><stop offset="0.0627" stop-color="#7850ff"/><stop offset="0.132" stop-color="#5035ff"/><stop offset="0.1584" stop-color="#3c28ff"/><stop offset="0.1881" stop-color="#1810ff"/><stop offset="0.2145" stop-color="#0001fe"/><stop offset="0.2541" stop-color="#003dc2"/><stop offset="0.2706" stop-color="#0051ae"/><stop offset="0.3036" stop-color="#006b94"/><stop offset="0.3993" stop-color="#00c13e"/><stop offset="0.4818" stop-color="#00fe01"/><stop offset="0.6865" stop-color="#82ff00"/><stop offset="0.7294" stop-color="#a1ff00"/><stop offset="0.8482" stop-color="#ffff00"/><stop offset="0.9505" stop-color="#ffd700"/><stop offset="0.9868" stop-color="#ffca00"/><stop offset="1" stop-color="#ffc800"/></linearGradient>
<linearGradient id="c49" x1="0" y1="0" x2="0" y2="1"><stop offset="0" stop-color="#8559ff"/><stop offset="0.0264" stop-color="#8257ff"/><stop offset="0.0627" stop-color="#7850ff"/><stop offset="0.132" stop-color="#5035ff"/><stop offset="0.1584" stop-color="#3c28ff"/><stop offset="0.1881" stop-color="#1810ff"/><stop offset="0.2145" stop-color="#0100ff"/><stop offset="0.2574" stop-color="#003cc3"/><stop offset="0.2739" stop-color="#004fb0"/><stop offset="0.396" stop-color="#00bd42"/><stop offset="0.4356" stop-color="#00dd22"/><stop offset="0.4818" stop-color="#00fd02"/><stop offset="0.6172" stop-color="#56ff00"/><stop offset="0.6799" stop-color="#81ff00"/><stop offset="0.7228" stop-color="#a1ff00"/><stop offset="0.8383" stop-color="#ffff00"/><stop offset="0.9472" stop-color="#ffd300"/><stop offset="0.9868" stop-color="#ffc500"/><stop offset="1" stop-color="#ffc300"/></linearGradient>
<linearGradient id="c50" x1="0" y1="0" x2="0" y2="1"><stop offset="0" stop-color="#8559ff"/><stop offset="0.0264" stop-color="#8257ff"/><stop offset="0.0627" stop-color="#7850ff"/><stop offset="0.1287" stop-color="#5237ff"/><stop offset="0.1551" stop-color="#3f2aff"/><stop offset="0.1914" stop-color="#160fff"/><stop offset="0.2145" stop-color="#0201ff"/><stop offset="0.2178" stop-color="#0002fd"/><stop offset="0.2508" stop-color="#002fd0"/><stop offset="0.2673" stop-color="#0043bc"/><stop offset="0.3333" stop-color="#00847b"/><stop offset="0.4092" stop-color="#00c738"/><stop offset="0.4851" stop-color="#00ff00"/><stop offset="0.6238" stop-color="#5cff00"/><stop offset="0.6799" stop-color="#83ff00"/><stop offset="0.7162" stop-color="#a0ff00"/><stop offset="0.7921" stop-color="#e2ff00"/><stop offset="0.8284" stop-color="#ffff00"/><stop offset="0.9373" stop-color="#ffd300"/><stop offset="0.9835" stop-color="#ffc200"/><stop offset="1" stop-color="#ffbf00"/></linearGradient>
<linearGradient id="c51" x1="0" y1="0" x2="0" y2="1"><stop offset="0" stop-color="#8559ff"/><stop offset="0.0264" stop-color="#8257ff"/><stop offset="0.0627" stop-color="#7850ff"/><stop offset="0.1287" stop-color="#5237ff"/><stop offset="0.1584" stop-color="#3c28ff"/><stop offset="0.1881" stop-color="#1a11ff"/><stop offset="0.2178" stop-color="#0000ff"/><stop offset="0.2673" stop-color="#0040bf"/><stop offset="0.3366" stop-color="#008679"/><stop offset="0.4092" stop-color="#00c639"/><stop offset="0.4851" stop-color="#00fe01"/><stop offset="0.6106" stop-color="#54ff00"/><stop offset="0.6766" stop-color="#83ff00"/><stop offset="0.7129" stop-color="#a1ff00"/><stop offset="0.7855" stop-color="#e2ff00"/><stop offset="0.8185" stop-color="#feff00"/><stop offset="0.934" stop-color="#ffd000"/><stop offset="0.9835" stop-color="#ffc000"/><stop offset="1" stop-color="#ffbd00"/></linearGradient>
<linearGradient id="c52" x1="0" y1="0" x2="0" y2="1"><stop offset="0" stop-color="#8559ff"/><stop offset="0.0264" stop-color="#8257ff"/><stop offset="0.0627" stop-color="#7750ff"/><stop offset="0.1287" stop-color="#5236ff"/><stop offset="0.1584" stop-color="#3c28ff"/><stop offset="0.1914" stop-color="#1810ff"/><stop offset="0.2178" stop-color="#0101ff"/><stop offset="0.2706" stop-color="#0041be"/><stop offset="0.3399" stop-color="#008877"/><stop offset="0.4092" stop-color="#00c53a"/><stop offset="0.4851" stop-color="#00fe01"/><stop offset="0.5941" stop-color="#49ff00"/><stop offset="0.6733" stop-color="#83ff00"/><stop offset="0.7096" stop-color="#a1ff00"/><stop offset="0.7789" stop-color="#e2ff00"/><stop offset="0.8119" stop-color="#feff00"/><stop offset="0.9274" stop-color="#ffd000"/><stop offset="0.9835" stop-color="#ffbe00"/><stop offset="1" stop-color="#ffbb00"/></linearGradient>
<linearGradient id="c53" x1="0" y1="0" x2="0" y2="1"><stop offset="0" stop-color="#8559ff"/><stop offset="0.0198" stop-color="#8458ff"/><stop offset="0.0429" stop-color="#7e54ff"/><stop offset="0.0627" stop-color="#774fff"/><stop offset="0.0825" stop-color="#6d49ff"/><stop offset="0.1518" stop-color="#412cff"/><stop offset="0.165" stop-color="#3523ff"/><stop offset="0.1914" stop-color="#1810ff"/><stop offset="0.2178" stop-color="#0201ff"/><stop offset="0.2211" stop-color="#0001fe"/><stop offset="0.2772" stop-color="#0047b8"/><stop offset="0.3465" stop-color="#008e71"/><stop offset="0.4125" stop-color="#00c837"/><stop offset="0.4884" stop-color="#00ff00"/><stop offset="0.604" stop-color="#50ff00"/><stop offset="0.6733" stop-color="#84ff00"/><stop offset="0.7063" stop-color="#a0ff00"/><stop offset="0.7756" stop-color="#e3ff00"/><stop offset="0.8086" stop-color="#ffff00"/><stop offset="0.9208" stop-color="#ffd100"/><stop offset="0.9769" stop-color="#ffbe00"/><stop offset="1" stop-color="#ffba00"/></linearGradient>
<linearGradient id="c54" x1="0" y1="0" x2="0" y2="1"><stop offset="0" stop-color="#8559ff"/><stop offset="0.0396" stop-color="#7f54ff"/><stop offset="0.0627" stop-color="#764fff"/><stop offset="0.0792" stop-color="#6e49ff"/><stop offset="0.1518" stop-color="#402bff"/><stop offset="0.1914" stop-color="#1911ff"/><stop offset="0.2211" stop-color="#0000ff"/><stop offset="0.2805" stop-color="#0049b6"/><stop offset="0.3498" stop-color="#00916e"/><stop offset="0.4125" stop-color="#00c837"/><stop offset="0.4884" stop-color="#00fe01"/><stop offset="0.5842" stop-color="#42ff00"/><stop offset="0.6733" stop-color="#85ff00"/><stop offset="0.7063" stop-color="#a1ff00"/><stop offset="0.7723" stop-color="#e4ff00"/><stop offset="0.802" stop-color="#feff00"/><stop offset="0.9175" stop-color="#ffd000"/><stop offset="0.9736" stop-color="#ffbe00"/><stop offset="1" stop-color="#ffba00"/></linearGradient>
<linearGradient id="c55" x1="0" y1="0" x2="0" y2="1"><stop offset="0" stop-color="#8559ff"/><stop offset="0.0363" stop-color="#7f55ff"/><stop offset="0.0759" stop-color="#6f4aff"/><stop offset="0.1518" stop-color="#3f2aff"/><stop offset="0.1947" stop-color="#170fff"/><stop offset="0.2211" stop-color="#0101ff"/><stop offset="0.2244" stop-color="#0002fd"/><stop offset="0.2607" stop-color="#0030cf"/><stop offset="0.2937" stop-color="#0056a9"/><stop offset="0.3597" stop-color="#009a65"/><stop offset="0.4158" stop-color="#00ca35"/><stop offset="0.4917" stop-color="#00ff00"/><stop offset="0.5842" stop-color="#41ff00"/><stop offset="0.6733" stop-color="#85ff00"/><stop offset="0.703" stop-color="#9fff00"/><stop offset="0.769" stop-color="#e4ff00"/><stop offset="0.7987" stop-color="#ffff00"/><stop offset="0.8614" stop-color="#ffe300"/><stop offset="0.9142" stop-color="#ffcf00"/><stop offset="0.967" stop-color="#ffbf00"/><stop offset="1" stop-color="#ffb900"/></linearGradient>
<linearGradient id="c56" x1="0" y1="0" x2="0" y2="1"><stop offset="0" stop-color="#8559ff"/><stop offset="0.033" stop-color="#8055ff"/><stop offset="0.0726" stop-color="#6f4aff"/><stop offset="0.1551" stop-color="#3c28ff"/><stop offset="0.1947" stop-color="#1710ff"/><stop offset="0.2244" stop-color="#0001fe"/><stop offset="0.2937" stop-color="#0055aa"/><stop offset="0.3597" stop-color="#009a65"/><stop offset="0.4158" stop-color="#00c936"/><stop offset="0.495" stop-color="#00ff00"/><stop offset="0.5842" stop-color="#40ff00"/><stop offset="0.6766" stop-color="#88ff00"/><stop offset="0.7063" stop-color="#a3ff00"/><stop offset="0.769" stop-color="#e7ff00"/><stop offset="0.7954" stop-color="#ffff00"/><stop offset="0.8614" stop-color="#ffe000"/><stop offset="0.9109" stop-color="#ffcc00"/><stop offset="0.9604" stop-color="#ffbe00"/><stop offset="1" stop-color="#ffb700"/></linearGradient>
<linearGradient id="c57" x1="0" y1="0" x2="0" y2="1"><stop offset="0" stop-color="#8559ff"/><stop offset="0.0297" stop-color="#8056ff"/><stop offset="0.0693" stop-color="#704bff"/><stop offset="0.1551" stop-color="#3b27ff"/><stop offset="0.2244" stop-color="#0000ff"/><stop offset="0.3003" stop-color="#005ba4"/><stop offset="0.363" stop-color="#009c63"/><stop offset="0.4158" stop-color="#00c837"/><stop offset="0.4983" stop-color="#00ff00"/><stop offset="0.571" stop-color="#34ff00"/><stop offset="0.6766" stop-color="#88ff00"/><stop offset="0.7096" stop-color="#a7ff00"/><stop offset="0.7756" stop-color="#eeff00"/><stop offset="0.7954" stop-color="#fffe00"/><stop offset="0.8614" stop-color="#ffdd00"/><stop offset="0.9109" stop-color="#ffc800"/><stop offset="0.9571" stop-color="#ffba00"/><stop offset="1" stop-color="#ffb300"/></linearGradient>
<linearGradient id="c58" x1="0" y1="0" x2="0" y2="1"><stop offset="0" stop-color="#8559ff"/><stop offset="0.0297" stop-color="#8055ff"/><stop offset="0.0693" stop-color="#6f4aff"/><stop offset="0.1056" stop-color="#573aff"/><stop offset="0.1551" stop-color="#3a26ff"/><stop offset="0.2244" stop-color="#0101ff"/><stop offset="0.2277" stop-color="#0002fd"/><stop offset="0.3036" stop-color="#005da2"/><stop offset="0.3366" stop-color="#00817e"/><stop offset="0.3663" stop-color="#009e61"/><stop offset="0.4158" stop-color="#00c639"/><stop offset="0.5017" stop-color="#00fe01"/><stop offset="0.5578" stop-color="#28ff00"/><stop offset="0.6799" stop-color="#8bff00"/><stop offset="0.7096" stop-color="#a7ff00"/><stop offset="0.7657" stop-color="#e4ff00"/><stop offset="0.7921" stop-color="#feff00"/><stop offset="0.8647" stop-color="#ffdb00"/><stop offset="0.9109" stop-color="#ffc700"/><stop offset="0.9604" stop-color="#ffb700"/><stop offset="1" stop-color="#ffaf00"/></linearGradient>
<linearGradient id="c59" x1="0" y1="0" x2="0" y2="1"><stop offset="0" stop-color="#8559ff"/><stop offset="0.0297" stop-color="#8055ff"/><stop offset="0.066" stop-color="#704bff"/><stop offset="0.1056" stop-color="#5438ff"/><stop offset="0.1584" stop-color="#3624ff"/><stop offset="0.2277" stop-color="#0000ff"/><stop offset="0.3069" stop-color="#005fa0"/><stop offset="0.3366" stop-color="#00807f"/><stop offset="0.3663" stop-color="#009d62"/><stop offset="0.4125" stop-color="#00c23d"/><stop offset="0.505" stop-color="#00fd02"/><stop offset="0.5116" stop-color="#03ff00"/><stop offset="0.5512" stop-color="#21ff00"/><stop offset="0.6832" stop-color="#8eff00"/><stop offset="0.7096" stop-color="#a7ff00"/><stop offset="0.7657" stop-color="#e4ff00"/><stop offset="0.7921" stop-color="#feff00"/><stop offset="0.8581" stop-color="#ffde00"/><stop offset="0.9109" stop-color="#ffc700"/><stop offset="0.9703" stop-color="#ffb100"/><stop offset="1" stop-color="#ffaa00"/></linearGradient>
<linearGradient id="c60" x1="0" y1="0" x2="0" y2="1"><stop offset="0" stop-color="#8559ff"/><stop offset="0.0264" stop-color="#8056ff"/><stop offset="0.0627" stop-color="#704bff"/><stop offset="0.1056" stop-color="#5136ff"/><stop offset="0.1617" stop-color="#3221ff"/><stop offset="0.2277" stop-color="#0101ff"/><stop offset="0.231" stop-color="#0002fd"/><stop offset="0.3201" stop-color="#006d92"/><stop offset="0.3696" stop-color="#009f60"/><stop offset="0.4125" stop-color="#00c13e"/><stop offset="0.5116" stop-color="#00fe01"/><stop offset="0.5545" stop-color="#21ff00"/><stop offset="0.6865" stop-color="#91ff00"/><stop offset="0.7921" stop-color="#ffff00"/><stop offset="0.9109" stop-color="#ffc700"/><stop offset="0.9835" stop-color="#ffa900"/><stop offset="1" stop-color="#ffa600"/></linearGradient>
<linearGradient id="c61" x1="0" y1="0" x2="0" y2="1"><stop offset="0" stop-color="#8559ff"/><stop offset="0.0231" stop-color="#8156ff"/><stop offset="0.0594" stop-color="#704bff"/><stop offset="0.1056" stop-color="#4d33ff"/><stop offset="0.1617" stop-color="#3020ff"/><stop offset="0.231" stop-color="#0000ff"/><stop offset="0.3234" stop-color="#006e91"/><stop offset="0.3729" stop-color="#00a15e"/><stop offset="0.4125" stop-color="#00bf40"/><stop offset="0.4818" stop-color="#00e718"/><stop offset="0.5182" stop-color="#00ff00"/><stop offset="0.5545" stop-color="#1eff00"/><stop offset="0.6898" stop-color="#94ff00"/><stop offset="0.7162" stop-color="#aeff00"/><stop offset="0.769" stop-color="#e9ff00"/><stop offset="0.7921" stop-color="#ffff00"/><stop offset="0.8449" stop-color="#ffe400"/><stop offset="0.9802" stop-color="#ffa700"/><stop offset="1" stop-color="#ffa100"/></linearGradient>
<linearGradient id="c62" x1="0" y1="0" x2="0" y2="1"><stop offset="0" stop-color="#8559ff"/><stop offset="0.0231" stop-color="#8156ff"/><stop offset="0.0561" stop-color="#714bff"/><stop offset="0.1056" stop-color="#4a31ff"/><stop offset="0.1617" stop-color="#2e1fff"/><stop offset="0.231" stop-color="#0101ff"/><stop offset="0.2343" stop-color="#0001fe"/><stop offset="0.3267" stop-color="#00708f"/><stop offset="0.3729" stop-color="#009f60"/><stop offset="0.4059" stop-color="#00b847"/><stop offset="0.4818" stop-color="#00e21d"/><stop offset="0.5215" stop-color="#00fe01"/><stop offset="0.5479" stop-color="#15ff00"/><stop offset="0.6898" stop-color="#94ff00"/><stop offset="0.7723" stop-color="#ecff00"/><stop offset="0.7921" stop-color="#ffff00"/><stop offset="0.9241" stop-color="#ffc000"/><stop offset="0.9868" stop-color="#ffa000"/><stop offset="1" stop-color="#ff9d00"/></linearGradient>
<linearGradient id="c63" x1="0" y1="0" x2="0" y2="1"><stop offset="0" stop-color="#8559ff"/><stop offset="0.0198" stop-color="#8156ff"/><stop offset="0.0528" stop-color="#724cff"/><stop offset="0.066" stop-color="#6946ff"/><stop offset="0.1056" stop-color="#472fff"/><stop offset="0.1683" stop-color="#291bff"/><stop offset="0.2343" stop-color="#0000ff"/><stop offset="0.3267" stop-color="#006e91"/><stop offset="0.3729" stop-color="#009d62"/><stop offset="0.4092" stop-color="#00b748"/><stop offset="0.4851" stop-color="#00df20"/><stop offset="0.5281" stop-color="#00ff00"/><stop offset="0.6931" stop-color="#97ff00"/><stop offset="0.7888" stop-color="#fdff00"/><stop offset="0.7921" stop-color="#fffe00"/><stop offset="0.9175" stop-color="#ffc300"/><stop offset="0.9868" stop-color="#ff9c00"/><stop offset="1" stop-color="#ff9800"/></linearGradient>
<linearGradient id="c64" x1="0" y1="0" x2="0" y2="1"><stop offset="0" stop-color="#8559ff"/><stop offset="0.0198" stop-color="#8156ff"/><stop offset="0.0495" stop-color="#734dff"/><stop offset="0.066" stop-color="#6845ff"/><stop offset="0.1056" stop-color="#462fff"/><stop offset="0.1683" stop-color="#281bff"/><stop offset="0.2343" stop-color="#0000ff"/><stop offset="0.3267" stop-color="#006c93"/><stop offset="0.3729" stop-color="#009b64"/><stop offset="0.4059" stop-color="#00b24d"/><stop offset="0.4818" stop-color="#00d728"/><stop offset="0.505" stop-color="#00e718"/><stop offset="0.5314" stop-color="#00fd02"/><stop offset="0.5413" stop-color="#07ff00"/><stop offset="0.6139" stop-color="#4eff00"/><stop offset="0.6931" stop-color="#97ff00"/><stop offset="0.7888" stop-color="#feff00"/><stop offset="0.9109" stop-color="#ffc500"/><stop offset="0.9868" stop-color="#ff9800"/><stop offset="1" stop-color="#ff9400"/></linearGradient>
<linearGradient id="c65" x1="0" y1="0" x2="0" y2="1"><stop offset="0" stop-color="#8559ff"/><stop offset="0.0198" stop-color="#8156ff"/><stop offset="0.0495" stop-color="#734dff"/><stop offset="0.066" stop-color="#6846ff"/><stop offset="0.1056" stop-color="#462fff"/><stop offset="0.1617" stop-color="#2c1dff"/><stop offset="0.231" stop-color="#0101ff"/><stop offset="0.2409" stop-color="#0009f6"/><stop offset="0.3267" stop-color="#006c93"/><stop offset="0.3696" stop-color="#009669"/><stop offset="0.4059" stop-color="#00ae51"/><stop offset="0.4554" stop-color="#00c23d"/><stop offset="0.4785" stop-color="#00ce31"/><stop offset="0.505" stop-color="#00e11e"/><stop offset="0.538" stop-color="#00ff00"/><stop offset="0.6139" stop-color="#4dff00"/><stop offset="0.6997" stop-color="#9eff00"/><stop offset="0.7888" stop-color="#feff00"/><stop offset="0.9109" stop-color="#ffc500"/><stop offset="0.9439" stop-color="#ffb100"/><stop offset="0.9868" stop-color="#ff9400"/><stop offset="1" stop-color="#ff8f00"/></linearGradient>
<linearGradient id="c66" x1="0" y1="0" x2="0" y2="1"><stop offset="0" stop-color="#8559ff"/><stop offset="0.0198" stop-color="#8256ff"/><stop offset="0.0528" stop-color="#724cff"/><stop offset="0.066" stop-color="#6946ff"/><stop offset="0.1056" stop-color="#4830ff"/><stop offset="0.1584" stop-color="#2f1fff"/><stop offset="0.2277" stop-color="#0100ff"/><stop offset="0.2376" stop-color="#000af5"/><stop offset="0.3234" stop-color="#006996"/><stop offset="0.3663" stop-color="#00926d"/><stop offset="0.3861" stop-color="#00a05f"/><stop offset="0.4026" stop-color="#00aa55"/><stop offset="0.4554" stop-color="#00bb44"/><stop offset="0.4752" stop-color="#00c53a"/><stop offset="0.5017" stop-color="#00d926"/><stop offset="0.5413" stop-color="#00ff00"/><stop offset="0.6172" stop-color="#4fff00"/><stop offset="0.6997" stop-color="#9eff00"/><stop offset="0.7888" stop-color="#ffff00"/><stop offset="0.9109" stop-color="#ffc400"/><stop offset="0.9439" stop-color="#ffaf00"/><stop offset="0.9868" stop-color="#ff9000"/><stop offset="1" stop-color="#ff8b00"/></linearGradient>
<linearGradient id="c67" x1="0" y1="0" x2="0" y2="1"><stop offset="0" stop-color="#8559ff"/><stop offset="0.0231" stop-color="#8156ff"/><stop offset="0.0594" stop-color="#6f4aff"/><stop offset="0.1023" stop-color="#4c33ff"/><stop offset="0.1551" stop-color="#3121ff"/><stop offset="0.2211" stop-color="#0000ff"/><stop offset="0.3102" stop-color="#005fa0"/><stop offset="0.3597" stop-color="#008c73"/><stop offset="0.3795" stop-color="#009b64"/><stop offset="0.3993" stop-color="#00a55a"/><stop offset="0.4158" stop-color="#00ab54"/><stop offset="0.4521" stop-color="#00b14e"/><stop offset="0.4719" stop-color="#00ba45"/><stop offset="0.4983" stop-color="#00d02f"/><stop offset="0.5446" stop-color="#00ff00"/><stop offset="0.6172" stop-color="#4fff00"/><stop offset="0.703" stop-color="#a2ff00"/><stop offset="0.7657" stop-color="#e8ff00"/><stop offset="0.7888" stop-color="#ffff00"/><stop offset="0.9109" stop-color="#ffc300"/><stop offset="0.9439" stop-color="#ffad00"/><stop offset="0.9868" stop-color="#ff8b00"/><stop offset="1" stop-color="#ff8600"/></linearGradient>
<linearGradient id="c68" x1="0" y1="0" x2="0" y2="1"><stop offset="0" stop-color="#8559ff"/><stop offset="0.0264" stop-color="#8055ff"/><stop offset="0.0627" stop-color="#6e49ff"/><stop offset="0.1056" stop-color="#4c33ff"/><stop offset="0.1551" stop-color="#2e1fff"/><stop offset="0.1881" stop-color="#110bff"/><stop offset="0.2112" stop-color="#0000ff"/><stop offset="0.297" stop-color="#0057a8"/><stop offset="0.3531" stop-color="#008877"/><stop offset="0.3795" stop-color="#009a65"/><stop offset="0.3993" stop-color="#00a35c"/><stop offset="0.4158" stop-color="#00a758"/><stop offset="0.4488" stop-color="#00a956"/><stop offset="0.4686" stop-color="#00b04f"/><stop offset="0.4917" stop-color="#00c33c"/><stop offset="0.5446" stop-color="#00fc03"/><stop offset="0.5479" stop-color="#00ff00"/><stop offset="0.6139" stop-color="#4aff00"/><stop offset="0.6997" stop-color="#9fff00"/><stop offset="0.7657" stop-color="#e8ff00"/><stop offset="0.7888" stop-color="#fffe00"/><stop offset="0.9109" stop-color="#ffc200"/><stop offset="0.9439" stop-color="#ffab00"/><stop offset="0.9868" stop-color="#ff8700"/><stop offset="1" stop-color="#ff8100"/></linearGradient>
<linearGradient id="c69" x1="0" y1="0" x2="0" y2="1"><stop offset="0" stop-color="#8559ff"/><stop offset="0.0264" stop-color="#8055ff"/><stop offset="0.066" stop-color="#6d49ff"/><stop offset="0.2013" stop-color="#0001fe"/><stop offset="0.3003" stop-color="#005fa0"/><stop offset="0.3333" stop-color="#007a85"/><stop offset="0.363" stop-color="#00906f"/><stop offset="0.3828" stop-color="#009b64"/><stop offset="0.3993" stop-color="#00a15e"/><stop offset="0.4158" stop-color="#00a45b"/><stop offset="0.4521" stop-color="#00a35c"/><stop offset="0.4653" stop-color="#00a857"/><stop offset="0.4752" stop-color="#00ae51"/><stop offset="0.495" stop-color="#00c13e"/><stop offset="0.5479" stop-color="#00fd02"/><stop offset="0.5512" stop-color="#02ff00"/><stop offset="0.6172" stop-color="#4dff00"/><stop offset="0.6997" stop-color="#a0ff00"/><stop offset="0.7855" stop-color="#fdff00"/><stop offset="0.7888" stop-color="#fffe00"/><stop offset="0.9076" stop-color="#ffc200"/><stop offset="0.9439" stop-color="#ffa800"/><stop offset="0.9901" stop-color="#ff8000"/><stop offset="1" stop-color="#ff7c00"/></linearGradient>
<linearGradient id="c70" x1="0" y1="0" x2="0" y2="1"><stop offset="0" stop-color="#8559ff"/><stop offset="0.0132" stop-color="#8458ff"/><stop offset="0.033" stop-color="#7e54ff"/><stop offset="0.0726" stop-color="#6946ff"/><stop offset="0.1089" stop-color="#4c33ff"/><stop offset="0.1551" stop-color="#1e14ff"/><stop offset="0.1914" stop-color="#0001fe"/><stop offset="0.2145" stop-color="#001ae5"/><stop offset="0.2937" stop-color="#005ea1"/><stop offset="0.33" stop-color="#007b84"/><stop offset="0.363" stop-color="#00916e"/><stop offset="0.3828" stop-color="#009b64"/><stop offset="0.3993" stop-color="#00a15e"/><stop offset="0.4158" stop-color="#00a35c"/><stop offset="0.4521" stop-color="#00a05f"/><stop offset="0.4719" stop-color="#00a956"/><stop offset="0.4917" stop-color="#00bb44"/><stop offset="0.5479" stop-color="#00fd02"/><stop offset="0.5512" stop-color="#01ff00"/><stop offset="0.6205" stop-color="#51ff00"/><stop offset="0.6997" stop-color="#a1ff00"/><stop offset="0.7855" stop-color="#feff00"/><stop offset="0.8746" stop-color="#ffd300"/><stop offset="0.9076" stop-color="#ffc000"/><stop offset="0.9439" stop-color="#ffa500"/><stop offset="0.9901" stop-color="#ff7b00"/><stop offset="1" stop-color="#ff7800"/></linearGradient>
<linearGradient id="c71" x1="0" y1="0" x2="0" y2="1"><stop offset="0" stop-color="#8559ff"/><stop offset="0.0165" stop-color="#8357ff"/><stop offset="0.0363" stop-color="#7c53ff"/><stop offset="0.0594" stop-color="#714cff"/><stop offset="0.0792" stop-color="#6543ff"/><stop offset="0.1089" stop-color="#4c33ff"/><stop offset="0.1485" stop-color="#1f15ff"/><stop offset="0.1815" stop-color="#0101ff"/><stop offset="0.2013" stop-color="#0019e6"/><stop offset="0.2145" stop-color="#0025da"/><stop offset="0.2442" stop-color="#003bc4"/><stop offset="0.3102" stop-color="#00708f"/><stop offset="0.3597" stop-color="#00916e"/><stop offset="0.3828" stop-color="#009d62"/><stop offset="0.3993" stop-color="#00a25d"/><stop offset="0.4158" stop-color="#00a45b"/><stop offset="0.4521" stop-color="#00a15e"/><stop offset="0.4719" stop-color="#00a956"/><stop offset="0.4917" stop-color="#00bc43"/><stop offset="0.5479" stop-color="#00fd02"/><stop offset="0.5512" stop-color="#02ff00"/><stop offset="0.6238" stop-color="#56ff00"/><stop offset="0.6997" stop-color="#a2ff00"/><stop offset="0.7855" stop-color="#feff00"/><stop offset="0.8713" stop-color="#ffd400"/><stop offset="0.9043" stop-color="#ffc000"/><stop offset="0.9406" stop-color="#ffa500"/><stop offset="0.9901" stop-color="#ff7700"/><stop offset="1" stop-color="#ff7300"/></linearGradient>
<linearGradient id="c72" x1="0" y1="0" x2="0" y2="1"><stop offset="0" stop-color="#8559ff"/><stop offset="0.0165" stop-color="#8357ff"/><stop offset="0.0396" stop-color="#7b52ff"/><stop offset="0.0627" stop-color="#704aff"/><stop offset="0.0825" stop-color="#6242ff"/><stop offset="0.1089" stop-color="#4c32ff"/><stop offset="0.1452" stop-color="#1f14ff"/><stop offset="0.1782" stop-color="#0001fe"/><stop offset="0.198" stop-color="#001ee1"/><stop offset="0.2112" stop-color="#002cd3"/><stop offset="0.2442" stop-color="#0041be"/><stop offset="0.3069" stop-color="#00708f"/><stop offset="0.3531" stop-color="#008f70"/><stop offset="0.3795" stop-color="#009d62"/><stop offset="0.3993" stop-color="#00a45b"/><stop offset="0.4158" stop-color="#00a659"/><stop offset="0.4521" stop-color="#00a55a"/><stop offset="0.4719" stop-color="#00ad52"/><stop offset="0.495" stop-color="#00c23d"/><stop offset="0.5479" stop-color="#00ff00"/><stop offset="0.6238" stop-color="#58ff00"/><stop offset="0.6997" stop-color="#a4ff00"/><stop offset="0.7855" stop-color="#ffff00"/><stop offset="0.868" stop-color="#ffd400"/><stop offset="0.901" stop-color="#ffc000"/><stop offset="0.9406" stop-color="#ffa100"/><stop offset="0.9901" stop-color="#ff7200"/><stop offset="1" stop-color="#ff6e00"/></linearGradient>
<linearGradient id="c73" x1="0" y1="0" x2="0" y2="1"><stop offset="0" stop-color="#8559ff"/><stop offset="0.0165" stop-color="#8357ff"/><stop offset="0.0363" stop-color="#7c53ff"/><stop offset="0.0627" stop-color="#6f4aff"/><stop offset="0.0825" stop-color="#6241ff"/><stop offset="0.1089" stop-color="#4b32ff"/><stop offset="0.1452" stop-color="#1c13ff"/><stop offset="0.1716" stop-color="#0202ff"/><stop offset="0.1749" stop-color="#0001fe"/><stop offset="0.1947" stop-color="#0021de"/><stop offset="0.2079" stop-color="#0030cf"/><stop offset="0.2475" stop-color="#0046b9"/><stop offset="0.3036" stop-color="#00708f"/><stop offset="0.3465" stop-color="#008c73"/><stop offset="0.3729" stop-color="#009b64"/><stop offset="0.396" stop-color="#00a55a"/><stop offset="0.4125" stop-color="#00a956"/><stop offset="0.4521" stop-color="#00ab54"/><stop offset="0.4752" stop-color="#00b649"/><stop offset="0.4983" stop-color="#00cb34"/><stop offset="0.5446" stop-color="#00fe01"/><stop offset="0.6271" stop-color="#5fff00"/><stop offset="0.7855" stop-color="#fffe00"/><stop offset="0.8647" stop-color="#ffd400"/><stop offset="0.901" stop-color="#ffbd00"/><stop offset="0.9406" stop-color="#ff9d00"/><stop offset="0.9868" stop-color="#ff7000"/><stop offset="1" stop-color="#ff6900"/></linearGradient>
<linearGradient id="c74" x1="0" y1="0" x2="0" y2="1"><stop offset="0" stop-color="#8559ff"/><stop offset="0.0165" stop-color="#8357ff"/><stop offset="0.0363" stop-color="#7c52ff"/><stop offset="0.0627" stop-color="#6f4aff"/><stop offset="0.0825" stop-color="#6141ff"/><stop offset="0.1089" stop-color="#4931ff"/><stop offset="0.1419" stop-color="#1d14ff"/><stop offset="0.1716" stop-color="#0001fe"/><stop offset="0.1947" stop-color="#0028d7"/><stop offset="0.2013" stop-color="#0031ce"/><stop offset="0.2112" stop-color="#003ac5"/><stop offset="0.2475" stop-color="#0049b6"/><stop offset="0.3234" stop-color="#007f80"/><stop offset="0.3795" stop-color="#00a05f"/><stop offset="0.4092" stop-color="#00ac53"/><stop offset="0.4521" stop-color="#00b34c"/><stop offset="0.4719" stop-color="#00bc43"/><stop offset="0.4983" stop-color="#00d22d"/><stop offset="0.5413" stop-color="#00ff00"/><stop offset="0.6271" stop-color="#63ff00"/><stop offset="0.7822" stop-color="#ffff00"/><stop offset="0.8581" stop-color="#ffd500"/><stop offset="0.8944" stop-color="#ffbe00"/><stop offset="0.9373" stop-color="#ff9c00"/><stop offset="0.9901" stop-color="#ff6800"/><stop offset="1" stop-color="#ff6400"/></linearGradient>
<linearGradient id="c75" x1="0" y1="0" x2="0" y2="1"><stop offset="0" stop-color="#8559ff"/><stop offset="0.0165" stop-color="#8357ff"/><stop offset="0.0363" stop-color="#7b52ff"/><stop offset="0.0627" stop-color="#6e49ff"/><stop offset="0.0825" stop-color="#6040ff"/><stop offset="0.1089" stop-color="#4730ff"/><stop offset="0.1386" stop-color="#1f15ff"/><stop offset="0.1683" stop-color="#0000ff"/><stop offset="0.1947" stop-color="#0030cf"/><stop offset="0.2079" stop-color="#003fc0"/><stop offset="0.2508" stop-color="#004db2"/><stop offset="0.3267" stop-color="#00827d"/><stop offset="0.3861" stop-color="#00a659"/><stop offset="0.4059" stop-color="#00ae51"/><stop offset="0.4488" stop-color="#00bb44"/><stop offset="0.4686" stop-color="#00c33c"/><stop offset="0.4983" stop-color="#00da25"/><stop offset="0.5347" stop-color="#00ff00"/><stop offset="0.6007" stop-color="#4dff00"/><stop offset="0.6337" stop-color="#71ff00"/><stop offset="0.7789" stop-color="#fffe00"/><stop offset="0.8515" stop-color="#ffd600"/><stop offset="0.8911" stop-color="#ffbd00"/><stop offset="0.934" stop-color="#ff9900"/><stop offset="0.9868" stop-color="#ff6500"/><stop offset="1" stop-color="#ff6100"/></linearGradient>
<linearGradient id="c76" x1="0" y1="0" x2="0" y2="1"><stop offset="0" stop-color="#8558ff"/><stop offset="0.0132" stop-color="#8357ff"/><stop offset="0.0363" stop-color="#7a51ff"/><stop offset="0.0594" stop-color="#6e49ff"/><stop offset="0.0792" stop-color="#6040ff"/><stop offset="0.1089" stop-color="#452eff"/><stop offset="0.1386" stop-color="#1d13ff"/><stop offset="0.165" stop-color="#0201ff"/><stop offset="0.1683" stop-color="#0003fc"/><stop offset="0.1947" stop-color="#0037c8"/><stop offset="0.2013" stop-color="#0040bf"/><stop offset="0.2079" stop-color="#0046b9"/><stop offset="0.2178" stop-color="#0049b6"/><stop offset="0.2376" stop-color="#004ab5"/><stop offset="0.2508" stop-color="#004fb0"/><stop offset="0.3234" stop-color="#00817e"/><stop offset="0.3762" stop-color="#00a25d"/><stop offset="0.4059" stop-color="#00b24d"/><stop offset="0.4653" stop-color="#00cb34"/><stop offset="0.4917" stop-color="#00de21"/><stop offset="0.5248" stop-color="#00fe01"/><stop offset="0.5446" stop-color="#15ff00"/><stop offset="0.604" stop-color="#5cff00"/><stop offset="0.637" stop-color="#80ff00"/><stop offset="0.7723" stop-color="#fffe00"/><stop offset="0.8416" stop-color="#ffd800"/><stop offset="0.8812" stop-color="#ffbe00"/><stop offset="0.9274" stop-color="#ff9900"/><stop offset="0.9802" stop-color="#ff6600"/><stop offset="0.9901" stop-color="#ff6000"/><stop offset="1" stop-color="#ff5d00"/></linearGradient>
<linearGradient id="c77" x1="0" y1="0" x2="0" y2="1"><stop offset="0" stop-color="#8357ff"/><stop offset="0.0132" stop-color="#8156ff"/><stop offset="0.033" stop-color="#7a51ff"/><stop offset="0.0561" stop-color="#6e49ff"/><stop offset="0.0759" stop-color="#6040ff"/><stop offset="0.1056" stop-color="#452eff"/><stop offset="0.1386" stop-color="#1c12ff"/><stop offset="0.165" stop-color="#0101ff"/><stop offset="0.1683" stop-color="#0005fa"/><stop offset="0.1914" stop-color="#0036c9"/><stop offset="0.198" stop-color="#0041be"/><stop offset="0.2046" stop-color="#0049b6"/><stop offset="0.2145" stop-color="#004db2"/><stop offset="0.2409" stop-color="#004bb4"/><stop offset="0.2574" stop-color="#0052ad"/><stop offset="0.3795" stop-color="#00a55a"/><stop offset="0.4686" stop-color="#00d827"/><stop offset="0.4884" stop-color="#00e718"/><stop offset="0.5116" stop-color="#00fd02"/><stop offset="0.5149" stop-color="#01ff00"/><stop offset="0.5314" stop-color="#13ff00"/><stop offset="0.6007" stop-color="#67ff00"/><stop offset="0.6337" stop-color="#8bff00"/><stop offset="0.67" stop-color="#aeff00"/><stop offset="0.7591" stop-color="#ffff00"/><stop offset="0.8284" stop-color="#ffd800"/><stop offset="0.8713" stop-color="#ffbd00"/><stop offset="0.9208" stop-color="#ff9700"/><stop offset="0.9736" stop-color="#ff6600"/><stop offset="0.9901" stop-color="#ff5c00"/><stop offset="1" stop-color="#ff5900"/></linearGradient>
<linearGradient id="c78" x1="0" y1="0" x2="0" y2="1"><stop offset="0" stop-color="#8156ff"/><stop offset="0.0132" stop-color="#7f55ff"/><stop offset="0.0297" stop-color="#7951ff"/><stop offset="0.0726" stop-color="#6040ff"/><stop offset="0.1056" stop-color="#422cff"/><stop offset="0.1353" stop-color="#1e14ff"/><stop offset="0.165" stop-color="#0000ff"/><stop offset="0.1914" stop-color="#003ac5"/><stop offset="0.198" stop-color="#0045ba"/><stop offset="0.2046" stop-color="#004db2"/><stop offset="0.2145" stop-color="#0051ae"/><stop offset="0.2409" stop-color="#004bb4"/><stop offset="0.2574" stop-color="#0051ae"/><stop offset="0.3927" stop-color="#00b04f"/><stop offset="0.4587" stop-color="#00db24"/><stop offset="0.4983" stop-color="#00fc03"/><stop offset="0.5017" stop-color="#01ff00"/><stop offset="0.5248" stop-color="#1aff00"/><stop offset="0.5974" stop-color="#74ff00"/><stop offset="0.6304" stop-color="#99ff00"/><stop offset="0.6667" stop-color="#bcff00"/><stop offset="0.7426" stop-color="#fffe00"/><stop offset="0.8119" stop-color="#ffd600"/><stop offset="0.8647" stop-color="#ffb400"/><stop offset="0.9109" stop-color="#ff9200"/><stop offset="0.967" stop-color="#ff6500"/><stop offset="0.9901" stop-color="#ff5800"/><stop offset="1" stop-color="#ff5600"/></linearGradient>
<linearGradient id="c79" x1="0" y1="0" x2="0" y2="1"><stop offset="0" stop-color="#7f55ff"/><stop offset="0.0132" stop-color="#7d54ff"/><stop offset="0.0297" stop-color="#774fff"/><stop offset="0.0726" stop-color="#5d3eff"/><stop offset="0.1056" stop-color="#402aff"/><stop offset="0.1353" stop-color="#1e14ff"/><stop offset="0.165" stop-color="#0000ff"/><stop offset="0.1914" stop-color="#003dc2"/><stop offset="0.198" stop-color="#0049b6"/><stop offset="0.2046" stop-color="#0051ae"/><stop offset="0.2145" stop-color="#0054ab"/><stop offset="0.2409" stop-color="#004ab5"/><stop offset="0.2607" stop-color="#0051ae"/><stop offset="0.4422" stop-color="#00d52a"/><stop offset="0.4884" stop-color="#00fd02"/><stop offset="0.495" stop-color="#04ff00"/><stop offset="0.5215" stop-color="#22ff00"/><stop offset="0.5974" stop-color="#83ff00"/><stop offset="0.6337" stop-color="#aeff00"/><stop offset="0.67" stop-color="#d4ff00"/><stop offset="0.7162" stop-color="#feff00"/><stop offset="0.7789" stop-color="#ffdd00"/><stop offset="0.8317" stop-color="#ffbc00"/><stop offset="0.8911" stop-color="#ff9500"/><stop offset="0.9538" stop-color="#ff6700"/><stop offset="0.9868" stop-color="#ff5500"/><stop offset="1" stop-color="#ff5200"/></linearGradient>
<linearGradient id="c80" x1="0" y1="0" x2="0" y2="1"><stop offset="0" stop-color="#7e54ff"/><stop offset="0.0132" stop-color="#7c52ff"/><stop offset="0.0297" stop-color="#754eff"/><stop offset="0.0726" stop-color="#5b3dff"/><stop offset="0.1056" stop-color="#3e29ff"/><stop offset="0.165" stop-color="#0000ff"/><stop offset="0.1914" stop-color="#0040bf"/><stop offset="0.198" stop-color="#004cb3"/><stop offset="0.2046" stop-color="#0054ab"/><stop offset="0.2145" stop-color="#0056a9"/><stop offset="0.2409" stop-color="#004ab5"/><stop offset="0.2508" stop-color="#004bb4"/><stop offset="0.2607" stop-color="#0050af"/><stop offset="0.3762" stop-color="#00a55a"/><stop offset="0.4455" stop-color="#00dd22"/><stop offset="0.4818" stop-color="#00fe01"/><stop offset="0.505" stop-color="#18ff00"/><stop offset="0.5314" stop-color="#39ff00"/><stop offset="0.6403" stop-color="#ccff00"/><stop offset="0.6634" stop-color="#e7ff00"/><stop offset="0.6865" stop-color="#ffff00"/><stop offset="0.8152" stop-color="#ffbc00"/><stop offset="0.8779" stop-color="#ff9400"/><stop offset="0.9439" stop-color="#ff6700"/><stop offset="0.9868" stop-color="#ff5100"/><stop offset="1" stop-color="#ff4e00"/></linearGradient>
<linearGradient id="c81" x1="0" y1="0" x2="0" y2="1"><stop offset="0" stop-color="#7c53ff"/><stop offset="0.0132" stop-color="#7a51ff"/><stop offset="0.0264" stop-color="#754eff"/><stop offset="0.0693" stop-color="#5c3dff"/><stop offset="0.1089" stop-color="#3a26ff"/><stop offset="0.165" stop-color="#0100ff"/><stop offset="0.1716" stop-color="#000ef1"/><stop offset="0.1914" stop-color="#0040bf"/><stop offset="0.198" stop-color="#004db2"/><stop offset="0.2046" stop-color="#0054ab"/><stop offset="0.2145" stop-color="#0056a9"/><stop offset="0.2409" stop-color="#0048b7"/><stop offset="0.2508" stop-color="#0048b7"/><stop offset="0.264" stop-color="#004fb0"/><stop offset="0.3762" stop-color="#00a659"/><stop offset="0.4356" stop-color="#00db24"/><stop offset="0.4719" stop-color="#00ff00"/><stop offset="0.495" stop-color="#19ff00"/><stop offset="0.5248" stop-color="#3fff00"/><stop offset="0.6304" stop-color="#d6ff00"/><stop offset="0.6634" stop-color="#feff00"/><stop offset="0.6997" stop-color="#ffea00"/><stop offset="0.7987" stop-color="#ffb800"/><stop offset="0.9307" stop-color="#ff6500"/><stop offset="0.9868" stop-color="#ff4d00"/><stop offset="1" stop-color="#ff4a00"/></linearGradient>
<linearGradient id="c82" x1="0" y1="0" x2="0" y2="1"><stop offset="0" stop-color="#7a52ff"/><stop offset="0.0132" stop-color="#7850ff"/><stop offset="0.0264" stop-color="#734dff"/><stop offset="0.0693" stop-color="#5b3cff"/><stop offset="0.1089" stop-color="#3926ff"/><stop offset="0.165" stop-color="#0201ff"/><stop offset="0.1683" stop-color="#0004fb"/><stop offset="0.1947" stop-color="#0046b9"/><stop offset="0.2046" stop-color="#0054ab"/><stop offset="0.2145" stop-color="#0055aa"/><stop offset="0.2409" stop-color="#0045ba"/><stop offset="0.2508" stop-color="#0046b9"/><stop offset="0.264" stop-color="#004db2"/><stop offset="0.3234" stop-color="#007a85"/><stop offset="0.3729" stop-color="#00a45b"/><stop offset="0.4158" stop-color="#00ce31"/><stop offset="0.4587" stop-color="#00fd02"/><stop offset="0.4653" stop-color="#06ff00"/><stop offset="0.4983" stop-color="#2fff00"/><stop offset="0.6139" stop-color="#d1ff00"/><stop offset="0.6502" stop-color="#fffe00"/><stop offset="0.6898" stop-color="#ffe500"/><stop offset="0.7855" stop-color="#ffb000"/><stop offset="0.901" stop-color="#ff6600"/><stop offset="0.9637" stop-color="#ff4f00"/><stop offset="1" stop-color="#ff4600"/></linearGradient>
<linearGradient id="c83" x1="0" y1="0" x2="0" y2="1"><stop offset="0" stop-color="#7951ff"/><stop offset="0.0099" stop-color="#7850ff"/><stop offset="0.0264" stop-color="#724cff"/><stop offset="0.0693" stop-color="#5a3cff"/><stop offset="0.1122" stop-color="#3624ff"/><stop offset="0.165" stop-color="#0302ff"/><stop offset="0.1683" stop-color="#0002fd"/><stop offset="0.1914" stop-color="#003dc2"/><stop offset="0.198" stop-color="#004ab5"/><stop offset="0.2046" stop-color="#0052ad"/><stop offset="0.2145" stop-color="#0053ac"/><stop offset="0.2343" stop-color="#0045ba"/><stop offset="0.2442" stop-color="#0043bc"/><stop offset="0.2541" stop-color="#0045ba"/><stop offset="0.2673" stop-color="#004db2"/><stop offset="0.3267" stop-color="#007c83"/><stop offset="0.3729" stop-color="#00a659"/><stop offset="0.4092" stop-color="#00cc33"/><stop offset="0.4488" stop-color="#00fc03"/><stop offset="0.4521" stop-color="#02ff00"/><stop offset="0.4719" stop-color="#1cff00"/><stop offset="0.5776" stop-color="#b0ff00"/><stop offset="0.637" stop-color="#fcff00"/><stop offset="0.6403" stop-color="#fffe00"/><stop offset="0.6997" stop-color="#ffd700"/><stop offset="0.8812" stop-color="#ff6700"/><stop offset="0.9538" stop-color="#ff4c00"/><stop offset="1" stop-color="#ff4200"/></linearGradient>
<linearGradient id="c84" x1="0" y1="0" x2="0" y2="1"><stop offset="0" stop-color="#7750ff"/><stop offset="0.0099" stop-color="#764fff"/><stop offset="0.0264" stop-color="#704bff"/><stop offset="0.0693" stop-color="#593bff"/><stop offset="0.1188" stop-color="#3020ff"/><stop offset="0.1551" stop-color="#0f0aff"/><stop offset="0.1683" stop-color="#0000ff"/><stop offset="0.1914" stop-color="#003bc4"/><stop offset="0.198" stop-color="#0048b7"/><stop offset="0.2046" stop-color="#004fb0"/><stop offset="0.2145" stop-color="#0051ae"/><stop offset="0.2343" stop-color="#0044bb"/><stop offset="0.2442" stop-color="#0041be"/><stop offset="0.2541" stop-color="#0044bb"/><stop offset="0.2673" stop-color="#004cb3"/><stop offset="0.3234" stop-color="#007b84"/><stop offset="0.3696" stop-color="#00a659"/><stop offset="0.4026" stop-color="#00ca35"/><stop offset="0.4422" stop-color="#00fc03"/><stop offset="0.4455" stop-color="#02ff00"/><stop offset="0.4554" stop-color="#0fff00"/><stop offset="0.5611" stop-color="#a6ff00"/><stop offset="0.6304" stop-color="#feff00"/><stop offset="0.7261" stop-color="#ffbf00"/><stop offset="0.8812" stop-color="#ff6700"/><stop offset="0.9604" stop-color="#ff4800"/><stop offset="1" stop-color="#ff3e00"/></linearGradient>
<linearGradient id="c85" x1="0" y1="0" x2="0" y2="1"><stop offset="0" stop-color="#764fff"/><stop offset="0.0264" stop-color="#6f4aff"/><stop offset="0.0693" stop-color="#583bff"/><stop offset="0.1452" stop-color="#1a11ff"/><stop offset="0.1683" stop-color="#0101ff"/><stop offset="0.1716" stop-color="#0005fa"/><stop offset="0.1947" stop-color="#003ec1"/><stop offset="0.2046" stop-color="#004bb4"/><stop offset="0.2145" stop-color="#004db2"/><stop offset="0.2343" stop-color="#0042bd"/><stop offset="0.2442" stop-color="#0040bf"/><stop offset="0.2541" stop-color="#0043bc"/><stop offset="0.2673" stop-color="#004cb3"/><stop offset="0.3201" stop-color="#007986"/><stop offset="0.3663" stop-color="#00a659"/><stop offset="0.3993" stop-color="#00cb34"/><stop offset="0.4389" stop-color="#00fe01"/><stop offset="0.4587" stop-color="#1aff00"/><stop offset="0.5512" stop-color="#9fff00"/><stop offset="0.6238" stop-color="#ffff00"/><stop offset="0.6964" stop-color="#ffcb00"/><stop offset="0.7591" stop-color="#ffa700"/><stop offset="0.8845" stop-color="#ff6600"/><stop offset="0.9802" stop-color="#ff3e00"/><stop offset="1" stop-color="#ff3a00"/></linearGradient>
<linearGradient id="c86" x1="0" y1="0" x2="0" y2="1"><stop offset="0" stop-color="#754eff"/><stop offset="0.0264" stop-color="#6f4aff"/><stop offset="0.0693" stop-color="#573aff"/><stop offset="0.1452" stop-color="#1b12ff"/><stop offset="0.1716" stop-color="#0001fe"/><stop offset="0.1914" stop-color="#0032cd"/><stop offset="0.198" stop-color="#003ec1"/><stop offset="0.2046" stop-color="#0046b9"/><stop offset="0.2145" stop-color="#0048b7"/><stop offset="0.2343" stop-color="#003fc0"/><stop offset="0.2442" stop-color="#003ec1"/><stop offset="0.2541" stop-color="#0042bd"/><stop offset="0.2673" stop-color="#004bb4"/><stop offset="0.3201" stop-color="#007b84"/><stop offset="0.363" stop-color="#00a659"/><stop offset="0.396" stop-color="#00cb34"/><stop offset="0.4356" stop-color="#00fe01"/><stop offset="0.538" stop-color="#92ff00"/><stop offset="0.6172" stop-color="#ffff00"/><stop offset="0.6799" stop-color="#ffcd00"/><stop offset="0.7327" stop-color="#ffad00"/><stop offset="0.8812" stop-color="#ff6600"/><stop offset="0.9868" stop-color="#ff3800"/><stop offset="1" stop-color="#ff3500"/></linearGradient>
<linearGradient id="c87" x1="0" y1="0" x2="0" y2="1"><stop offset="0" stop-color="#754eff"/><stop offset="0.0264" stop-color="#6e49ff"/><stop offset="0.066" stop-color="#593bff"/><stop offset="0.1452" stop-color="#1d13ff"/><stop offset="0.1584" stop-color="#110bff"/><stop offset="0.1716" stop-color="#0201ff"/><stop offset="0.1749" stop-color="#0005fa"/><stop offset="0.1947" stop-color="#0031ce"/><stop offset="0.2046" stop-color="#003fc0"/><stop offset="0.2145" stop-color="#0042bd"/><stop offset="0.2343" stop-color="#003cc3"/><stop offset="0.2442" stop-color="#003cc3"/><stop offset="0.2541" stop-color="#0040bf"/><stop offset="0.2673" stop-color="#004ab5"/><stop offset="0.3168" stop-color="#007986"/><stop offset="0.3597" stop-color="#00a55a"/><stop offset="0.3927" stop-color="#00cb34"/><stop offset="0.4323" stop-color="#00ff00"/><stop offset="0.6106" stop-color="#fdff00"/><stop offset="0.6139" stop-color="#fffd00"/><stop offset="0.6766" stop-color="#ffc700"/><stop offset="0.7228" stop-color="#ffaa00"/><stop offset="0.8713" stop-color="#ff6600"/><stop offset="0.934" stop-color="#ff4e00"/><stop offset="0.9901" stop-color="#ff3300"/><stop offset="1" stop-color="#ff3100"/></linearGradient>
<linearGradient id="c88" x1="0" y1="0" x2="0" y2="1"><stop offset="0" stop-color="#744dff"/><stop offset="0.0264" stop-color="#6d49ff"/><stop offset="0.066" stop-color="#593bff"/><stop offset="0.1485" stop-color="#1c12ff"/><stop offset="0.1617" stop-color="#100aff"/><stop offset="0.1749" stop-color="#0000ff"/><stop offset="0.1947" stop-color="#002ad5"/><stop offset="0.2046" stop-color="#0037c8"/><stop offset="0.2145" stop-color="#003bc4"/><stop offset="0.2343" stop-color="#0038c7"/><stop offset="0.2442" stop-color="#0039c6"/><stop offset="0.2673" stop-color="#0049b6"/><stop offset="0.3135" stop-color="#007689"/><stop offset="0.3564" stop-color="#00a45b"/><stop offset="0.3894" stop-color="#00ca35"/><stop offset="0.429" stop-color="#00fe01"/><stop offset="0.4587" stop-color="#28ff00"/><stop offset="0.6073" stop-color="#fcff00"/><stop offset="0.6106" stop-color="#fffe00"/><stop offset="0.6733" stop-color="#ffc400"/><stop offset="0.7195" stop-color="#ffa700"/><stop offset="0.8581" stop-color="#ff6600"/><stop offset="0.9274" stop-color="#ff4d00"/><stop offset="0.9901" stop-color="#ff2f00"/><stop offset="1" stop-color="#ff2d00"/></linearGradient>
<linearGradient id="c89" x1="0" y1="0" x2="0" y2="1"><stop offset="0" stop-color="#734dff"/><stop offset="0.0264" stop-color="#6c48ff"/><stop offset="0.066" stop-color="#583bff"/><stop offset="0.1518" stop-color="#1b12ff"/><stop offset="0.1782" stop-color="#0001fe"/><stop offset="0.1947" stop-color="#0022dd"/><stop offset="0.2046" stop-color="#002fd0"/><stop offset="0.2145" stop-color="#0034cb"/><stop offset="0.2343" stop-color="#0034cb"/><stop offset="0.2475" stop-color="#0038c7"/><stop offset="0.264" stop-color="#0045ba"/><stop offset="0.2937" stop-color="#00629d"/><stop offset="0.3663" stop-color="#00b14e"/><stop offset="0.4257" stop-color="#00fd02"/><stop offset="0.429" stop-color="#02ff00"/><stop offset="0.4455" stop-color="#19ff00"/><stop offset="0.6073" stop-color="#feff00"/><stop offset="0.67" stop-color="#ffc500"/><stop offset="0.7195" stop-color="#ffa500"/><stop offset="0.8449" stop-color="#ff6600"/><stop offset="0.9868" stop-color="#ff2b00"/><stop offset="1" stop-color="#ff2900"/></linearGradient>
<linearGradient id="c90" x1="0" y1="0" x2="0" y2="1"><stop offset="0" stop-color="#724cff"/><stop offset="0.0264" stop-color="#6c48ff"/><stop offset="0.066" stop-color="#583aff"/><stop offset="0.1518" stop-color="#1c13ff"/><stop offset="0.1815" stop-color="#0001fe"/><stop offset="0.1947" stop-color="#0019e6"/><stop offset="0.2046" stop-color="#0026d9"/><stop offset="0.2145" stop-color="#002cd3"/><stop offset="0.2343" stop-color="#002fd0"/><stop offset="0.2475" stop-color="#0035ca"/><stop offset="0.2838" stop-color="#0057a8"/><stop offset="0.363" stop-color="#00af50"/><stop offset="0.4257" stop-color="#00ff00"/><stop offset="0.604" stop-color="#fbff00"/><stop offset="0.6073" stop-color="#ffff00"/><stop offset="0.6601" stop-color="#ffcd00"/><stop offset="0.6898" stop-color="#ffb600"/><stop offset="0.8317" stop-color="#ff6600"/><stop offset="0.8779" stop-color="#ff4f00"/><stop offset="0.9175" stop-color="#ff3e00"/><stop offset="0.9736" stop-color="#ff2b00"/><stop offset="1" stop-color="#ff2600"/></linearGradient>
<linearGradient id="c91" x1="0" y1="0" x2="0" y2="1"><stop offset="0" stop-color="#724cff"/><stop offset="0.0231" stop-color="#6c48ff"/><stop offset="0.0627" stop-color="#593bff"/><stop offset="0.1056" stop-color="#3b27ff"/><stop offset="0.1551" stop-color="#1c13ff"/><stop offset="0.1848" stop-color="#0000ff"/><stop offset="0.198" stop-color="#0015ea"/><stop offset="0.2079" stop-color="#001fe0"/><stop offset="0.2442" stop-color="#002fd0"/><stop offset="0.2739" stop-color="#004bb4"/><stop offset="0.3597" stop-color="#00ac53"/><stop offset="0.4224" stop-color="#00fd02"/><stop offset="0.4257" stop-color="#03ff00"/><stop offset="0.5182" stop-color="#86ff00"/><stop offset="0.604" stop-color="#fcff00"/><stop offset="0.6073" stop-color="#fffe00"/><stop offset="0.6601" stop-color="#ffcd00"/><stop offset="0.6898" stop-color="#ffb500"/><stop offset="0.8185" stop-color="#ff6700"/><stop offset="0.9208" stop-color="#ff3500"/><stop offset="0.967" stop-color="#ff2800"/><stop offset="1" stop-color="#ff2400"/></linearGradient>
<linearGradient id="c92" x1="0" y1="0" x2="0" y2="1"><stop offset="0" stop-color="#714cff"/><stop offset="0.0231" stop-color="#6c48ff"/><stop offset="0.0627" stop-color="#593bff"/><stop offset="0.1056" stop-color="#3b27ff"/><stop offset="0.1584" stop-color="#1d13ff"/><stop offset="0.1914" stop-color="#0001fe"/><stop offset="0.2079" stop-color="#0014eb"/><stop offset="0.2442" stop-color="#0029d6"/><stop offset="0.2706" stop-color="#0043bc"/><stop offset="0.3597" stop-color="#00ab54"/><stop offset="0.4224" stop-color="#00fe01"/><stop offset="0.5182" stop-color="#88ff00"/><stop offset="0.604" stop-color="#fdff00"/><stop offset="0.6634" stop-color="#ffca00"/><stop offset="0.6898" stop-color="#ffb500"/><stop offset="0.8119" stop-color="#ff6500"/><stop offset="0.8713" stop-color="#ff4b00"/><stop offset="0.9208" stop-color="#ff2f00"/><stop offset="0.9637" stop-color="#ff2500"/><stop offset="1" stop-color="#ff2200"/></linearGradient>
<linearGradient id="c93" x1="0" y1="0" x2="0" y2="1"><stop offset="0" stop-color="#714bff"/><stop offset="0.0198" stop-color="#6d49ff"/><stop offset="0.0594" stop-color="#5b3dff"/><stop offset="0.1056" stop-color="#3b27ff"/><stop offset="0.1584" stop-color="#2116ff"/><stop offset="0.198" stop-color="#0001fe"/><stop offset="0.2112" stop-color="#000ff0"/><stop offset="0.2475" stop-color="#0028d7"/><stop offset="0.2772" stop-color="#0048b7"/><stop offset="0.363" stop-color="#00ae51"/><stop offset="0.4224" stop-color="#00fe01"/><stop offset="0.5182" stop-color="#8aff00"/><stop offset="0.604" stop-color="#ffff00"/><stop offset="0.6898" stop-color="#ffb400"/><stop offset="0.736" stop-color="#ff9300"/><stop offset="0.802" stop-color="#ff6700"/><stop offset="0.8713" stop-color="#ff4a00"/><stop offset="0.9208" stop-color="#ff2d00"/><stop offset="0.9637" stop-color="#ff2300"/><stop offset="1" stop-color="#ff2000"/></linearGradient>
<linearGradient id="c94" x1="0" y1="0" x2="0" y2="1"><stop offset="0" stop-color="#714bff"/><stop offset="0.0132" stop-color="#6f4aff"/><stop offset="0.0396" stop-color="#6543ff"/><stop offset="0.0627" stop-color="#593bff"/><stop offset="0.1056" stop-color="#3b27ff"/><stop offset="0.1551" stop-color="#281bff"/><stop offset="0.1683" stop-color="#1f15ff"/><stop offset="0.198" stop-color="#0403ff"/><stop offset="0.2046" stop-color="#0001fe"/><stop offset="0.2508" stop-color="#0029d6"/><stop offset="0.3036" stop-color="#00649b"/><stop offset="0.3696" stop-color="#00b44b"/><stop offset="0.4224" stop-color="#00fd02"/><stop offset="0.4257" stop-color="#03ff00"/><stop offset="0.5182" stop-color="#8cff00"/><stop offset="0.6007" stop-color="#fbff00"/><stop offset="0.604" stop-color="#ffff00"/><stop offset="0.6667" stop-color="#ffc700"/><stop offset="0.703" stop-color="#ffaa00"/><stop offset="0.7987" stop-color="#ff6600"/><stop offset="0.8713" stop-color="#ff4a00"/><stop offset="0.9109" stop-color="#ff3100"/><stop offset="0.9241" stop-color="#ff2b00"/><stop offset="0.967" stop-color="#ff2100"/><stop offset="1" stop-color="#ff1e00"/></linearGradient>
<linearGradient id="c95" x1="0" y1="0" x2="0" y2="1"><stop offset="0" stop-color="#714bff"/><stop offset="0.0165" stop-color="#6e49ff"/><stop offset="0.0495" stop-color="#6040ff"/><stop offset="0.1056" stop-color="#3b27ff"/><stop offset="0.1551" stop-color="#2b1dff"/><stop offset="0.2112" stop-color="#0000ff"/><stop offset="0.2541" stop-color="#0028d7"/><stop offset="0.3168" stop-color="#00708f"/><stop offset="0.3762" stop-color="#00bb44"/><stop offset="0.4224" stop-color="#00fd02"/><stop offset="0.4257" stop-color="#03ff00"/><stop offset="0.5182" stop-color="#8dff00"/><stop offset="0.6007" stop-color="#fbff00"/><stop offset="0.604" stop-color="#ffff00"/><stop offset="0.67" stop-color="#ffc500"/><stop offset="0.7129" stop-color="#ffa200"/><stop offset="0.7954" stop-color="#ff6700"/><stop offset="0.8713" stop-color="#ff4900"/><stop offset="0.9241" stop-color="#ff2b00"/><stop offset="0.967" stop-color="#ff2000"/><stop offset="1" stop-color="#ff1d00"/></linearGradient>
<linearGradient id="c96" x1="0" y1="0" x2="0" y2="1"><stop offset="0" stop-color="#704bff"/><stop offset="0.0165" stop-color="#6e49ff"/><stop offset="0.0495" stop-color="#6040ff"/><stop offset="0.1056" stop-color="#3b27ff"/><stop offset="0.1584" stop-color="#2a1cff"/><stop offset="0.2178" stop-color="#0100ff"/><stop offset="0.2277" stop-color="#0008f7"/><stop offset="0.2508" stop-color="#001fe0"/><stop offset="0.3135" stop-color="#006996"/><stop offset="0.3762" stop-color="#00b946"/><stop offset="0.4224" stop-color="#00fc03"/><stop offset="0.4257" stop-color="#02ff00"/><stop offset="0.4851" stop-color="#5eff00"/><stop offset="0.5182" stop-color="#8eff00"/><stop offset="0.604" stop-color="#ffff00"/><stop offset="0.703" stop-color="#ffaa00"/><stop offset="0.7525" stop-color="#ff8400"/><stop offset="0.7954" stop-color="#ff6600"/><stop offset="0.8713" stop-color="#ff4900"/><stop offset="0.9109" stop-color="#ff3200"/><stop offset="0.9274" stop-color="#ff2a00"/><stop offset="0.967" stop-color="#ff1f00"/><stop offset="1" stop-color="#ff1b00"/></linearGradient>
<linearGradient id="c97" x1="0" y1="0" x2="0" y2="1"><stop offset="0" stop-color="#704bff"/><stop offset="0.0165" stop-color="#6d49ff"/><stop offset="0.0495" stop-color="#5f40ff"/><stop offset="0.1056" stop-color="#3b28ff"/><stop offset="0.1584" stop-color="#2a1cff"/><stop offset="0.2244" stop-color="#0001fe"/><stop offset="0.264" stop-color="#002bd4"/><stop offset="0.3234" stop-color="#00738c"/><stop offset="0.3795" stop-color="#00bd42"/><stop offset="0.4224" stop-color="#00fc03"/><stop offset="0.4257" stop-color="#02ff00"/><stop offset="0.4851" stop-color="#5fff00"/><stop offset="0.5182" stop-color="#8fff00"/><stop offset="0.604" stop-color="#ffff00"/><stop offset="0.703" stop-color="#ffaa00"/><stop offset="0.7525" stop-color="#ff8400"/><stop offset="0.7954" stop-color="#ff6600"/><stop offset="0.8713" stop-color="#ff4900"/><stop offset="0.9274" stop-color="#ff2a00"/><stop offset="0.9703" stop-color="#ff1d00"/><stop offset="1" stop-color="#ff1900"/></linearGradient>
<linearGradient id="c98" x1="0" y1="0" x2="0" y2="1"><stop offset="0" stop-color="#704bff"/><stop offset="0.0165" stop-color="#6d49ff"/><stop offset="0.0495" stop-color="#5f40ff"/><stop offset="0.1056" stop-color="#3b28ff"/><stop offset="0.1617" stop-color="#291bff"/><stop offset="0.2244" stop-color="#0101ff"/><stop offset="0.231" stop-color="#0005fa"/><stop offset="0.2574" stop-color="#0022dd"/><stop offset="0.3201" stop-color="#006e91"/><stop offset="0.3795" stop-color="#00bc43"/><stop offset="0.4224" stop-color="#00fc03"/><stop offset="0.4257" stop-color="#02ff00"/><stop offset="0.4818" stop-color="#5aff00"/><stop offset="0.5149" stop-color="#8bff00"/><stop offset="0.604" stop-color="#feff00"/><stop offset="0.7063" stop-color="#ffa700"/><stop offset="0.7558" stop-color="#ff8100"/><stop offset="0.7954" stop-color="#ff6600"/><stop offset="0.8713" stop-color="#ff4900"/><stop offset="0.9142" stop-color="#ff3000"/><stop offset="0.9307" stop-color="#ff2900"/><stop offset="0.9703" stop-color="#ff1c00"/><stop offset="1" stop-color="#ff1800"/></linearGradient>
<linearGradient id="c99" x1="0" y1="0" x2="0" y2="1"><stop offset="0" stop-color="#704aff"/><stop offset="0.0165" stop-color="#6d49ff"/><stop offset="0.0495" stop-color="#5f3fff"/><stop offset="0.1056" stop-color="#3b28ff"/><stop offset="0.1617" stop-color="#291bff"/><stop offset="0.2277" stop-color="#0001fe"/><stop offset="0.2706" stop-color="#0031ce"/><stop offset="0.33" stop-color="#007b84"/><stop offset="0.3828" stop-color="#00c13e"/><stop offset="0.4224" stop-color="#00fc03"/><stop offset="0.4257" stop-color="#02ff00"/><stop offset="0.4818" stop-color="#5aff00"/><stop offset="0.5149" stop-color="#8bff00"/><stop offset="0.604" stop-color="#feff00"/><stop offset="0.7096" stop-color="#ffa400"/><stop offset="0.7558" stop-color="#ff8100"/><stop offset="0.7954" stop-color="#ff6600"/><stop offset="0.8713" stop-color="#ff4900"/><stop offset="0.9142" stop-color="#ff3000"/><stop offset="0.9307" stop-color="#ff2900"/><stop offset="0.9703" stop-color="#ff1c00"/><stop offset="1" stop-color="#ff1700"/></linearGradient>
<linearGradient id="c100" x1="0" y1="0" x2="0" y2="1"><stop offset="0" stop-color="#6f4aff"/><stop offset="0.0165" stop-color="#6d48ff"/><stop offset="0.0495" stop-color="#5f3fff"/><stop offset="0.1056" stop-color="#3c28ff"/><stop offset="0.1617" stop-color="#291bff"/><stop offset="0.2277" stop-color="#0000ff"/><stop offset="0.2706" stop-color="#0031ce"/><stop offset="0.33" stop-color="#007b84"/><stop offset="0.3828" stop-color="#00c13e"/><stop offset="0.4224" stop-color="#00fc03"/><stop offset="0.4257" stop-color="#02ff00"/><stop offset="0.4818" stop-color="#5aff00"/><stop offset="0.5149" stop-color="#8bff00"/><stop offset="0.604" stop-color="#fdff00"/><stop offset="0.6073" stop-color="#fffd00"/><stop offset="0.67" stop-color="#ffc500"/><stop offset="0.7096" stop-color="#ffa400"/><stop offset="0.7558" stop-color="#ff8100"/><stop offset="0.7954" stop-color="#ff6600"/><stop offset="0.8713" stop-color="#ff4900"/><stop offset="0.9142" stop-color="#ff3000"/><stop offset="0.934" stop-color="#ff2700"/><stop offset="0.9736" stop-color="#ff1b00"/><stop offset="1" stop-color="#ff1700"/></linearGradient>
<linearGradient id="c101" x1="0" y1="0" x2="0" y2="1"><stop offset="0" stop-color="#6f4aff"/><stop offset="0.0165" stop-color="#6d48ff"/><stop offset="0.0495" stop-color="#5f3fff"/><stop offset="0.1056" stop-color="#3c28ff"/><stop offset="0.1617" stop-color="#291bff"/><stop offset="0.2277" stop-color="#0100ff"/><stop offset="0.264" stop-color="#0028d7"/><stop offset="0.3234" stop-color="#00728d"/><stop offset="0.3828" stop-color="#00c13e"/><stop offset="0.4224" stop-color="#00fc03"/><stop offset="0.4257" stop-color="#02ff00"/><stop offset="0.4818" stop-color="#5aff00"/><stop offset="0.5149" stop-color="#8bff00"/><stop offset="0.604" stop-color="#fdff00"/><stop offset="0.6073" stop-color="#fffe00"/><stop offset="0.67" stop-color="#ffc500"/><stop offset="0.7096" stop-color="#ffa400"/><stop offset="0.7525" stop-color="#ff8300"/><stop offset="0.7921" stop-color="#ff6700"/><stop offset="0.8713" stop-color="#ff4900"/><stop offset="0.9142" stop-color="#ff3000"/><stop offset="0.934" stop-color="#ff2700"/><stop offset="0.9736" stop-color="#ff1a00"/><stop offset="1" stop-color="#ff1600"/></linearGradient>
<linearGradient id="c102" x1="0" y1="0" x2="0" y2="1"><stop offset="0" stop-color="#6f4aff"/><stop offset="0.0165" stop-color="#6c48ff"/><stop offset="0.0495" stop-color="#5f3fff"/><stop offset="0.1056" stop-color="#3c28ff"/><stop offset="0.1617" stop-color="#291cff"/><stop offset="0.2277" stop-color="#0101ff"/><stop offset="0.231" stop-color="#0002fd"/><stop offset="0.2772" stop-color="#0038c7"/><stop offset="0.3333" stop-color="#007f80"/><stop offset="0.3828" stop-color="#00c13e"/><stop offset="0.4224" stop-color="#00fc03"/><stop offset="0.4257" stop-color="#02ff00"/><stop offset="0.4818" stop-color="#5aff00"/><stop offset="0.5149" stop-color="#8bff00"/><stop offset="0.604" stop-color="#fcff00"/><stop offset="0.6073" stop-color="#fffe00"/><stop offset="0.67" stop-color="#ffc500"/><stop offset="0.7096" stop-color="#ffa400"/><stop offset="0.7525" stop-color="#ff8300"/><stop offset="0.7921" stop-color="#ff6700"/><stop offset="0.8713" stop-color="#ff4900"/><stop offset="0.9142" stop-color="#ff3000"/><stop offset="0.934" stop-color="#ff2700"/><stop offset="0.9736" stop-color="#ff1a00"/><stop offset="1" stop-color="#ff1600"/></linearGradient>
<linearGradient id="c103" x1="0" y1="0" x2="0" y2="1"><stop offset="0" stop-color="#6f4aff"/><stop offset="0.0165" stop-color="#6c48ff"/><stop offset="0.0495" stop-color="#5f3fff"/><stop offset="0.1056" stop-color="#3c28ff"/><stop offset="0.1617" stop-color="#291cff"/><stop offset="0.2277" stop-color="#0101ff"/><stop offset="0.231" stop-color="#0002fd"/><stop offset="0.2772" stop-color="#0037c8"/><stop offset="0.33" stop-color="#007a85"/><stop offset="0.3828" stop-color="#00c13e"/><stop offset="0.4224" stop-color="#00fc03"/><stop offset="0.4257" stop-color="#02ff00"/><stop offset="0.4818" stop-color="#5aff00"/><stop offset="0.5149" stop-color="#8bff00"/><stop offset="0.604" stop-color="#fcff00"/><stop offset="0.6073" stop-color="#fffe00"/><stop offset="0.67" stop-color="#ffc500"/><stop offset="0.7096" stop-color="#ffa400"/><stop offset="0.7525" stop-color="#ff8300"/><stop offset="0.7921" stop-color="#ff6700"/><stop offset="0.8713" stop-color="#ff4900"/><stop offset="0.9142" stop-color="#ff3000"/><stop offset="0.9373" stop-color="#ff2600"/><stop offset="0.9736" stop-color="#ff1a00"/><stop offset="1" stop-color="#ff1600"/></linearGradient>
<linearGradient id="c104" x1="0" y1="0" x2="0" y2="1"><stop offset="0" stop-color="#6f4aff"/><stop offset="0.0165" stop-color="#6c48ff"/><stop offset="0.0495" stop-color="#5f3fff"/><stop offset="0.1056" stop-color="#3c28ff"/><stop offset="0.1617" stop-color="#291cff"/><stop offset="0.2277" stop-color="#0101ff"/><stop offset="0.231" stop-color="#0002fd"/><stop offset="0.2772" stop-color="#0037c8"/><stop offset="0.33" stop-color="#007a85"/><stop offset="0.3828" stop-color="#00c13e"/><stop offset="0.4224" stop-color="#00fc03"/><stop offset="0.4257" stop-color="#02ff00"/><stop offset="0.4818" stop-color="#5aff00"/><stop offset="0.5149" stop-color="#8bff00"/><stop offset="0.604" stop-color="#fcff00"/><stop offset="0.6073" stop-color="#fffe00"/><stop offset="0.67" stop-color="#ffc500"/><stop offset="0.7096" stop-color="#ffa400"/><stop offset="0.7525" stop-color="#ff8300"/><stop offset="0.7921" stop-color="#ff6700"/><stop offset="0.8713" stop-color="#ff4900"/><stop offset="0.9142" stop-color="#ff3000"/><stop offset="0.9373" stop-color="#ff2600"/><stop offset="0.9736" stop-color="#ff1a00"/><stop offset="1" stop-color="#ff1500"/></linearGradient>
<linearGradient id="c105" x1="0" y1="0" x2="0" y2="1"><stop offset="0" stop-color="#6f4aff"/><stop offset="0.0165" stop-color="#6c48ff"/><stop offset="0.0495" stop-color="#5f3fff"/><stop offset="0.1056" stop-color="#3c28ff"/><stop offset="0.1617" stop-color="#291cff"/><stop offset="0.2277" stop-color="#0101ff"/><stop offset="0.231" stop-color="#0002fd"/><stop offset="0.2772" stop-color="#0037c8"/><stop offset="0.33" stop-color="#007a85"/><stop offset="0.3828" stop-color="#00c13e"/><stop offset="0.4224" stop-color="#00fc03"/><stop offset="0.4257" stop-color="#02ff00"/><stop offset="0.4818" stop-color="#5aff00"/><stop offset="0.5149" stop-color="#8bff00"/><stop offset="0.604" stop-color="#fcff00"/><stop offset="0.6073" stop-color="#fffe00"/><stop offset="0.67" stop-color="#ffc500"/><stop offset="0.7096" stop-color="#ffa400"/><stop offset="0.7525" stop-color="#ff8300"/><stop offset="0.7921" stop-color="#ff6700"/><stop offset="0.8713" stop-color="#ff4900"/><stop offset="0.9142" stop-color="#ff3000"/><stop offset="0.9373" stop-color="#ff2600"/><stop offset="0.9736" stop-color="#ff1a00"/><stop offset="1" stop-color="#ff1500"/></linearGradient>
</defs>
<rect width="685" height="346" fill="#fff"/>
<g clip-path="url(#pc)"><g filter="url(#hb)"><rect x="11.9" y="12" width="6.5" height="303" fill="url(#c0)"/><rect x="17.9" y="12" width="6.5" height="303" fill="url(#c1)"/><rect x="23.9" y="12" width="6.5" height="303" fill="url(#c2)"/><rect x="29.9" y="12" width="6.5" height="303" fill="url(#c3)"/><rect x="35.9" y="12" width="6.5" height="303" fill="url(#c4)"/><rect x="41.9" y="12" width="6.5" height="303" fill="url(#c5)"/><rect x="47.9" y="12" width="6.5" height="303" fill="url(#c6)"/><rect x="53.9" y="12" width="6.5" height="303" fill="url(#c7)"/><rect x="59.9" y="12" width="6.5" height="303" fill="url(#c8)"/><rect x="65.8" y="12" width="6.5" height="303" fill="url(#c9)"/><rect x="71.8" y="12" width="6.5" height="303" fill="url(#c10)"/><rect x="77.8" y="12" width="6.5" height="303" fill="url(#c11)"/><rect x="83.8" y="12" width="6.5" height="303" fill="url(#c12)"/><rect x="89.8" y="12" width="6.5" height="303" fill="url(#c13)"/><rect x="95.8" y="12" width="6.5" height="303" fill="url(#c14)"/><rect x="101.8" y="12" width="6.5" height="303" fill="url(#c15)"/><rect x="107.8" y="12" width="6.5" height="303" fill="url(#c16)"/><rect x="113.8" y="12" width="6.5" height="303" fill="url(#c17)"/><rect x="119.8" y="12" width="6.5" height="303" fill="url(#c18)"/><rect x="125.8" y="12" width="6.5" height="303" fill="url(#c19)"/><rect x="131.8" y="12" width="6.5" height="303" fill="url(#c20)"/><rect x="137.8" y="12" width="6.5" height="303" fill="url(#c21)"/><rect x="143.8" y="12" width="6.5" height="303" fill="url(#c22)"/><rect x="149.8" y="12" width="6.5" height="303" fill="url(#c23)"/><rect x="155.8" y="12" width="6.5" height="303" fill="url(#c24)"/><rect x="161.8" y="12" width="6.5" height="303" fill="url(#c25)"/><rect x="167.8" y="12" width="6.5" height="303" fill="url(#c26)"/><rect x="173.8" y="12" width="6.5" height="303" fill="url(#c27)"/><rect x="179.8" y="12" width="6.5" height="303" fill="url(#c28)"/><rect x="185.8" y="12" width="6.5" height="303" fill="url(#c29)"/><rect x="191.8" y="12" width="6.5" height="303" fill="url(#c30)"/><rect x="197.8" y="12" width="6.5" height="303" fill="url(#c31)"/><rect x="203.8" y="12" width="6.5" height="303" fill="url(#c32)"/><rect x="209.8" y="12" width="6.5" height="303" fill="url(#c33)"/><rect x="215.8" y="12" width="6.5" height="303" fill="url(#c34)"/><rect x="221.8" y="12" width="6.5" height="303" fill="url(#c35)"/><rect x="227.8" y="12" width="6.5" height="303" fill="url(#c36)"/><rect x="233.8" y="12" width="6.5" height="303" fill="url(#c37)"/><rect x="239.8" y="12" width="6.5" height="303" fill="url(#c38)"/><rect x="245.8" y="12" width="6.5" height="303" fill="url(#c39)"/><rect x="251.8" y="12" width="6.5" height="303" fill="url(#c40)"/><rect x="257.9" y="12" width="6.5" height="303" fill="url(#c41)"/><rect x="263.9" y="12" width="6.5" height="303" fill="url(#c42)"/><rect x="269.9" y="12" width="6.5" height="303" fill="url(#c43)"/><rect x="275.9" y="12" width="6.5" height="303" fill="url(#c44)"/><rect x="281.9" y="12" width="6.5" height="303" fill="url(#c45)"/><rect x="287.9" y="12" width="6.5" height="303" fill="url(#c46)"/><rect x="293.9" y="12" width="6.5" height="303" fill="url(#c47)"/><rect x="299.9" y="12" width="6.5" height="303" fill="url(#c48)"/><rect x="305.9" y="12" width="6.5" height="303" fill="url(#c49)"/><rect x="311.9" y="12" width="6.5" height="303" fill="url(#c50)"/><rect x="317.9" y="12" width="6.5" height="303" fill="url(#c51)"/><rect x="323.9" y="12" width="6.5" height="303" fill="url(#c52)"/><rect x="329.9" y="12" width="6.5" height="303" fill="url(#c53)"/><rect x="335.9" y="12" width="6.5" height="303" fill="url(#c54)"/><rect x="341.9" y="12" width="6.5" height="303" fill="url(#c55)"/><rect x="347.9" y="12" width="6.5" height="303" fill="url(#c56)"/><rect x="353.9" y="12" width="6.5" height="303" fill="url(#c57)"/><rect x="359.9" y="12" width="6.5" height="303" fill="url(#c58)"/><rect x="365.9" y="12" width="6.5" height="303" fill="url(#c59)"/><rect x="371.9" y="12" width="6.5" height="303" fill="url(#c60)"/><rect x="377.9" y="12" width="6.5" height="303" fill="url(#c61)"/><rect x="383.9" y="12" width="6.5" height="303" fill="url(#c62)"/><rect x="389.9" y="12" width="6.5" height="303" fill="url(#c63)"/><rect x="395.9" y="12" width="6.5" height="303" fill="url(#c64)"/><rect x="401.9" y="12" width="6.5" height="303" fill="url(#c65)"/><rect x="407.9" y="12" width="6.5" height="303" fill="url(#c66)"/><rect x="413.9" y="12" width="6.5" height="303" fill="url(#c67)"/><rect x="419.9" y="12" width="6.5" height="303" fill="url(#c68)"/><rect x="425.9" y="12" width="6.5" height="303" fill="url(#c69)"/><rect x="431.9" y="12" width="6.5" height="303" fill="url(#c70)"/><rect x="437.9" y="12" width="6.5" height="303" fill="url(#c71)"/><rect x="443.9" y="12" width="6.5" height="303" fill="url(#c72)"/><rect x="449.9" y="12" width="6.5" height="303" fill="url(#c73)"/><rect x="455.9" y="12" width="6.5" height="303" fill="url(#c74)"/><rect x="461.9" y="12" width="6.5" height="303" fill="url(#c75)"/><rect x="467.9" y="12" width="6.5" height="303" fill="url(#c76)"/><rect x="473.9" y="12" width="6.5" height="303" fill="url(#c77)"/><rect x="479.9" y="12" width="6.5" height="303" fill="url(#c78)"/><rect x="485.9" y="12" width="6.5" height="303" fill="url(#c79)"/><rect x="491.9" y="12" width="6.5" height="303" fill="url(#c80)"/><rect x="497.9" y="12" width="6.5" height="303" fill="url(#c81)"/><rect x="503.9" y="12" width="6.5" height="303" fill="url(#c82)"/><rect x="509.9" y="12" width="6.5" height="303" fill="url(#c83)"/><rect x="515.9" y="12" width="6.5" height="303" fill="url(#c84)"/><rect x="521.9" y="12" width="6.5" height="303" fill="url(#c85)"/><rect x="527.9" y="12" width="6.5" height="303" fill="url(#c86)"/><rect x="533.9" y="12" width="6.5" height="303" fill="url(#c87)"/><rect x="539.9" y="12" width="6.5" height="303" fill="url(#c88)"/><rect x="545.9" y="12" width="6.5" height="303" fill="url(#c89)"/><rect x="551.9" y="12" width="6.5" height="303" fill="url(#c90)"/><rect x="557.9" y="12" width="6.5" height="303" fill="url(#c91)"/><rect x="563.9" y="12" width="6.5" height="303" fill="url(#c92)"/><rect x="569.9" y="12" width="6.5" height="303" fill="url(#c93)"/><rect x="575.9" y="12" width="6.5" height="303" fill="url(#c94)"/><rect x="581.9" y="12" width="6.5" height="303" fill="url(#c95)"/><rect x="587.9" y="12" width="6.5" height="303" fill="url(#c96)"/><rect x="593.9" y="12" width="6.5" height="303" fill="url(#c97)"/><rect x="599.9" y="12" width="6.5" height="303" fill="url(#c98)"/><rect x="605.9" y="12" width="6.5" height="303" fill="url(#c99)"/><rect x="611.9" y="12" width="6.5" height="303" fill="url(#c100)"/><rect x="617.9" y="12" width="6.5" height="303" fill="url(#c101)"/><rect x="623.9" y="12" width="6.5" height="303" fill="url(#c102)"/><rect x="629.9" y="12" width="6.5" height="303" fill="url(#c103)"/><rect x="635.9" y="12" width="6.5" height="303" fill="url(#c104)"/><rect x="641.9" y="12" width="6.5" height="303" fill="url(#c105)"/></g></g>
<g fill="none" stroke="#000" stroke-width="0.45" stroke-opacity="0.52" clip-path="url(#pc)">
<path d="M30 83.4C38.2 83.8 69.2 86 79.4 86.1C89.6 86.1 85.1 85.7 91 83.7C96.9 81.7 108.6 76.3 114.7 74.1C120.8 71.9 125.1 70.5 127.8 70.5C130.5 70.6 127.9 73.1 130.7 74.4C133.5 75.8 140.2 77.2 144.8 78.6C149.4 80 153.5 81.8 158.5 82.8C163.5 83.7 169.2 84.2 175 84.3C180.8 84.4 183.6 85.1 193.5 83.4C203.4 81.6 227.4 75.5 234.7 73.8C241.9 72.2 236.6 73.6 237 73.5"/>
<path d="M262.3 70C262.4 70 257.7 70.1 262.8 70C267.9 69.8 278.8 68.8 293 69.1C307.2 69.3 331.1 70.7 348 71.4C364.9 72.1 383.4 73.2 394.7 73.2C406 73.2 410.4 72.8 415.8 71.4C421.2 70.1 423.1 67.2 427.4 65.2C431.7 63.1 434.5 60.8 441.5 59.2C448.5 57.7 460.9 56.6 469.5 55.9C478.1 55.3 483.4 55 492.9 55.3C502.4 55.7 515.4 56.9 526.4 58C537.4 59.2 552.1 61 559.1 62.2C566.1 63.4 566.9 64.7 568.5 65.2C570.1 65.7 568.6 65.2 568.6 65.2"/>
<path d="M593.8 70.6 L628.1 71.4"/>
<path d="M30 144.6C33.6 144.8 43.9 144.5 51.4 145.7C58.9 147 66.9 150.2 74.7 152C82.5 153.9 92.2 155.8 98.1 156.8C103.9 157.7 104 158.3 109.8 157.7C115.6 157.1 125.3 155.1 133.1 153.2C140.9 151.3 147.3 148.1 156.5 146.3C165.7 144.6 178.8 143.6 188 142.5C197.2 141.4 205.2 140.5 211.4 139.8C217.6 139 220.6 138.9 225 138C229.4 137 235.6 134.8 237.7 134.1C239.8 133.5 237.7 134.1 237.7 134.1"/>
<path d="M262.2 128.3C262.2 128.3 257 128.2 262.2 128.3C267.4 128.4 282.1 128.4 293.1 128.7C304.1 129.1 319.1 130.3 328.2 130.5C337.3 130.7 338.9 129.9 348 129.9C357.1 129.9 373.3 130.1 383 130.5C392.7 130.9 398.6 131.8 406.4 132.3C414.2 132.8 422 133.6 429.8 133.5C437.6 133.4 445.3 132.3 453.1 131.7C460.9 131.1 467.4 130.3 476.5 129.9C485.6 129.6 497.7 130.4 508 129.6C518.3 128.8 529.2 126.2 538.1 125.2C547 124.1 556.4 123.6 561.5 123.4C566.6 123.2 567.4 123.8 568.6 123.9"/>
<path d="M594.6 125.8 L628.1 125.8"/>
<path d="M30 210.5C32.8 210.7 42.4 211.1 46.7 212C51 212.9 52.9 214.2 56 215.9C59.1 217.6 61.5 220.1 65.4 222.1C69.3 224.2 74.3 227.3 79.4 228.1C84.5 228.9 90.7 227.7 95.8 226.9C100.9 226.2 104.3 224.4 109.8 223.6C115.2 222.9 122.7 222.4 128.5 222.4C134.3 222.4 140.9 222.5 144.8 223.6C148.7 224.8 149.1 227.9 151.8 229.3C154.5 230.7 156.9 231.7 161.2 232.3C165.5 232.9 173 232.9 177.5 232.9C182 232.9 183.9 233.1 188 232.3C192.1 231.5 196.9 229.5 202 228.1C207.1 226.7 212.2 224.7 218.4 223.6C224.6 222.5 233.6 221.7 239.4 221.5C245.2 221.4 250.9 222.5 253.4 222.7C255.9 223 254.5 223.1 254.7 223.1"/>
<path d="M279.3 230.5C281.6 230.4 287.7 230.9 293.1 229.9C298.5 228.9 306 225.9 311.8 224.5C317.6 223.1 322.2 222.2 328.2 221.5C334.2 220.9 336.9 220.8 348 220.6C359.1 220.4 381.1 220.5 394.7 220.3C408.3 220.2 420.8 220.1 429.8 219.7C438.8 219.4 443.1 219.1 448.5 218.3C453.9 217.5 458.2 216.8 462.5 215C466.8 213.2 470.9 210.3 474.2 207.5C477.5 204.7 479.2 200.9 482.3 198.3C485.4 195.6 489.6 193.7 492.9 191.7C496.2 189.7 499.7 188.1 502.2 186C504.7 184 505.6 181.3 507.7 179.5C509.8 177.7 509.6 176.4 514.7 175.3C519.8 174.1 529.1 173.3 538.1 172.6C547.1 171.9 563.4 171.1 568.5 170.8C573.6 170.5 568.6 170.8 568.6 170.8"/>
<path d="M594.6 169.6 L628.1 169.6"/>
<path d="M349.2 312.9C349.4 311.1 348.9 304.7 350.3 302.1C351.7 299.5 353.8 298.4 357.3 297.3C360.8 296.2 365.2 296.2 371.4 295.5C377.6 294.9 386.9 294.2 394.7 293.5C402.5 292.7 410.3 292 418.1 291.1C425.9 290.1 434.5 289 441.5 287.8C448.5 286.5 454.7 285.1 460.1 283.6C465.6 282.1 470.7 280.6 474.2 278.8C477.7 277 479.2 275.2 481.2 272.9C483.1 270.5 483.2 267.5 485.9 264.8C488.6 262.1 494.4 259.2 497.5 256.5C500.6 253.7 502.8 251.3 504.5 248.4C506.2 245.5 506 241.4 507.7 239.1C509.4 236.9 511.2 236.4 514.7 234.7C518.2 232.9 525.6 230.9 528.7 228.7C531.8 226.5 531 223.3 533.4 221.5C535.8 219.8 536.9 218.9 542.8 218.3C548.6 217.6 564.2 217.8 568.5 217.7"/>
<path d="M594.6 218 L628.1 218"/>
<path d="M504.2 312.9C504.6 311.9 504.9 308.4 506.6 306.9C508.4 305.4 510.2 305.1 514.7 303.9C519.2 302.7 528.1 301 533.4 299.7C538.7 298.5 543.6 297.8 546.3 296.4C549 295.1 549.1 293.7 549.8 291.7C550.5 289.7 549.7 286.5 550.5 284.5C551.3 282.5 551.4 280.7 554.4 279.4C557.4 278.2 566.1 277.4 568.5 277"/>
<path d="M594.6 276.7 L628.1 276.7"/>
<path d="M456.4 148.5C456.6 147.9 458.1 146.2 457.6 145C457.1 143.8 455.5 142.6 453.5 141.6C451.5 140.6 448.3 139.4 445.4 139C442.5 138.6 438.9 139.1 436 139.3C433.1 139.5 430.8 139.1 428.1 140.2C425.4 141.2 422 143.9 420 145.6C418 147.3 416.7 148.7 416.2 150.2C415.7 151.7 416.1 153.4 417.1 154.8C418.1 156.2 420.5 157.8 422.3 158.9C424.1 160 426.3 161 428.1 161.2C429.9 161.4 432.4 160.5 433.3 160.3"/>
</g>
<text x="249.8" y="71.9" text-anchor="middle" transform="rotate(-8 249.8 71.9)" dy="4.2">300</text>
<text x="581.6" y="68.4" text-anchor="middle" transform="rotate(12 581.6 68.4)" dy="4.2">300</text>
<text x="250.3" y="131.6" text-anchor="middle" transform="rotate(-13 250.3 131.6)" dy="4.2">400</text>
<text x="445.4" y="153.8" text-anchor="middle" transform="rotate(-29 445.4 153.8)" dy="4.2">400</text>
<text x="581.6" y="124.6" text-anchor="middle" transform="rotate(0 581.6 124.6)" dy="4.2">400</text>
<text x="266.8" y="226.7" text-anchor="middle" transform="rotate(15 266.8 226.7)" dy="4.2">500</text>
<text x="581.6" y="169.8" text-anchor="middle" transform="rotate(0 581.6 169.8)" dy="4.2">500</text>
<text x="581.6" y="217.4" text-anchor="middle" transform="rotate(0 581.6 217.4)" dy="4.2">600</text>
<text x="581.6" y="276.7" text-anchor="middle" transform="rotate(0 581.6 276.7)" dy="4.2">700</text>
<g fill="none" stroke="#9400d3" stroke-linecap="round"><path d="M55.4 31.4h0M55.2 33h0M56.1 34.6h0M56 36.2h0M56.5 37.9h0M57 39.5h0M56.7 41.1h0M56.9 42.7h0M56.6 44.3h0M57 46h0M57.4 47.6h0M57.7 49.2h0M58 50.8h0M57.8 52.4h0M57.7 54.1h0M58 55.7h0M58.4 57.3h0M88.2 31.4h0M88.7 33h0M88.3 34.6h0M88.7 36.2h0M89.2 37.8h0M88.6 39.4h0M89.3 41h0M89.8 42.5h0M89.3 44.1h0M89.7 45.7h0M90.2 47.3h0M89.6 48.9h0M90.1 50.5h0M90.4 52.1h0M90.5 53.7h0M90.4 55.3h0M90.3 56.9h0M90.6 58.5h0M90.6 60.1h0M90.8 61.7h0M154.4 31h0M154.6 32.6h0M154.8 34.2h0M155.5 35.8h0M155.7 37.5h0M155.5 39.1h0M156 40.7h0M156 42.3h0M156.4 43.9h0M156.6 45.5h0M157.1 47.1h0M157.1 48.8h0M157.4 50.4h0M157.9 52h0M157.8 53.6h0M158.5 55.2h0M157.9 56.9h0M158.5 58.5h0M158.2 60.1h0M158.3 61.8h0M158.4 63.4h0M187.7 31h0M188.2 32.5h0M188.5 34.1h0M188.8 35.6h0M188.8 37.1h0M189.2 38.7h0M190.2 40.2h0M190.2 41.7h0M190.7 43.3h0M191.1 44.9h0M191.2 46.4h0M190.8 48h0M191 49.6h0M191.3 51.1h0M191 52.7h0M191.7 54.3h0M191.8 55.9h0M191.9 57.4h0M191.7 59h0M221.5 32.4h0M221.7 34h0M222.2 35.6h0M221.8 37.3h0M222.2 38.9h0M222.5 40.5h0M223 42.1h0M223.1 43.7h0M223 45.3h0M223.5 46.9h0M223.8 48.6h0M224 50.2h0M224.2 51.8h0M224.6 53.4h0M224.8 55h0M225.2 56.6h0M225.4 58.3h0M225.3 59.9h0M255.5 31.9h0M255.9 33.5h0M256.2 35.1h0M256.8 36.7h0M257.2 38.3h0M257.4 39.9h0M257.8 41.5h0M258.3 43.2h0M257.8 44.8h0M258.9 46.4h0M258.6 48h0M259.1 49.6h0M259.5 51.2h0M288.6 32.4h0M289.1 34h0M289.2 35.6h0M288.9 37.2h0M289.6 38.8h0M289.3 40.5h0M289.8 42.1h0M290.4 43.7h0M290.3 45.3h0M290.7 46.9h0M291.1 48.5h0M291.5 50.1h0M291.6 51.7h0M291 53.3h0M291.5 55h0M291.7 56.6h0M291.9 58.2h0M320.8 31.4h0M320.6 33h0M321.3 34.5h0M321.5 36.1h0M322 37.6h0M322.3 39.2h0M321.8 40.8h0M322.1 42.3h0M322.7 43.9h0M322.4 45.4h0M322.7 47h0M323.2 48.6h0M323.1 50.1h0M324 51.7h0M324.4 53.2h0M324 54.7h0M324.8 56.3h0M325.3 57.8h0M325.7 59.4h0M325.3 60.9h0M325.7 62.5h0M352.9 30.7h0M353.1 32.2h0M354.3 33.7h0M354.9 35.2h0M354.9 36.7h0M355.7 38.2h0M356.5 39.7h0M357.1 41.2h0M356.8 42.8h0M357.5 44.3h0M357.9 45.9h0M358 47.5h0M357.9 49.1h0M358.1 50.6h0M358.7 52.2h0M359.5 53.8h0M359.1 55.3h0M359.4 56.9h0M359.8 58.5h0M359.7 60.1h0M359.8 61.7h0M359.8 63.3h0M360.3 64.9h0M360.6 66.5h0M360.3 68.1h0M360.1 69.7h0M360.4 71.3h0M361.3 81.9h0M360.9 83.4h0M360.9 84.8h0M360.6 86.3h0M385.8 29.6h0M386.6 31.1h0M387.1 32.7h0M386.9 34.2h0M387.2 35.7h0M388.4 37.3h0M389 38.8h0M389.1 40.3h0M389.9 41.8h0M390.2 43.4h0M390.1 45h0M392.4 52.9h0M392.5 54.4h0M392.8 56h0M392.1 57.5h0M392.4 59h0M392.4 60.6h0M392.4 62.1h0M393.1 63.7h0M392.8 65.2h0M424.3 38.9h0M424.4 40.5h0M425.3 42h0M424.6 43.7h0M424.7 45.3h0M424.6 47h0M424.5 48.6h0M424.9 50.3h0M425 51.9h0M424.9 53.6h0M425.4 55.2h0M425 56.8h0M425.3 58.5h0M425.6 60.1h0M425.8 61.8h0M426.1 63.4h0M487 31h0M487.2 32.5h0M488.3 34.1h0M488.7 35.6h0M488.5 37.1h0M489.1 38.7h0M489.5 40.2h0M490.1 41.7h0M490.3 43.3h0M490.9 44.8h0M491.7 46.4h0M491.6 47.9h0M492.2 49.5h0M492.5 51h0M493 52.6h0M492.7 54.2h0M493.6 55.7h0M493.7 57.3h0M520.6 31.4h0M521.4 32.9h0M521.5 34.4h0M521.6 35.9h0M522.4 37.4h0M522.9 38.9h0M523.2 40.5h0M523.2 42h0M524.3 43.5h0M524.7 45h0M524.6 46.5h0M525.2 48h0M524.9 49.6h0M526 51.1h0M526.1 52.7h0M526.1 54.2h0M526.4 55.8h0M526.4 57.3h0M555.7 33.1h0M555.7 34.7h0M556.1 36.3h0M556.3 37.9h0M556.8 39.5h0M556.7 41.1h0M557.6 42.6h0M557.5 44.2h0M557.8 45.8h0M557.7 47.4h0M558.5 49h0M558.9 50.6h0M558.9 52.2h0M558.8 53.8h0M559.5 55.4h0M559.1 57h0M559.9 58.6h0M559.9 60.2h0M559.8 61.8h0M560.2 63.4h0M588.1 32.4h0M588.4 34h0M588.7 35.6h0M588.6 37.2h0M589.4 38.8h0M589.3 40.4h0M589.9 42h0M590.1 43.6h0M589.7 45.2h0M590.4 46.8h0M590.3 48.4h0M591 50h0M591 51.6h0M591.2 53.2h0M591.7 54.8h0M591.2 56.4h0M591.8 58h0M591.7 59.6h0M591.6 61.2h0M592.4 62.8h0M592.4 64.4h0M592.5 66h0" stroke-width="3.5"/><path d="M59.3 61.3h0M59.8 65.2h0M60.3 69h0M60.7 72.7h0M61 76.6h0M61.4 81.7h0M62.6 90h0M63.5 98.2h0M64.7 108.3h0M66.6 121.6h0M68.9 139.1h0M72.2 165.4h0M76.1 200.9h0M80.6 244.2h0M84.1 295.3h0M91.3 66.4h0M92 71h0M92.6 75.7h0M93.3 80.8h0M93.9 87.5h0M95.1 97.3h0M97.4 111.8h0M99.7 130.2h0M101.8 149.4h0M104.4 175.4h0M107.9 211.6h0M110.9 256.3h0M113.7 309.4h0M121.3 30.6h0M122.1 32h0M123 33.5h0M123.9 34.8h0M124.7 36.1h0M124.5 38h0M123.9 39.3h0M125.5 39.5h0M126.5 40.5h0M127.6 40.8h0M128.7 41h0M127.5 41.8h0M131.1 43.6h0M126 43h0M125.8 45.3h0M126.5 46.5h0M127 48.5h0M127.3 50.9h0M127.5 53.5h0M127.3 56h0M128 57.8h0M128.7 59.5h0M129.9 63.5h0M130.8 66.5h0M130.4 69.9h0M129.4 73.4h0M130.4 79.5h0M132.7 88.9h0M133.4 94.5h0M132.7 98.2h0M132.7 103.4h0M133.8 113.2h0M135.9 127.4h0M136.4 138.2h0M135 143.3h0M135.9 160h0M141.6 203.5h0M159.1 67.8h0M159.3 71.3h0M159.6 75.7h0M160.1 80.4h0M160.5 86.5h0M162.1 96.4h0M164.2 109.9h0M167.3 128.8h0M169.6 149.9h0M172.2 174.5h0M174.7 203.5h0M179.2 251.2h0M191.7 61.7h0M192.4 66h0M192.9 70.4h0M193.3 74.5h0M193.8 78.7h0M194.6 83.7h0M195.5 92.1h0M196.6 100.6h0M198.5 113.9h0M201.1 131.9h0M204.1 154.3h0M206.2 178h0M207.9 203.5h0M211.1 244.9h0M214.4 297.4h0M192.3 47.5h0M225.3 65.2h0M225.9 69.2h0M226.6 73.6h0M227.6 79.8h0M228.9 87h0M229.8 95.7h0M231.2 105.2h0M232.9 117.4h0M234.5 131.9h0M236.6 151.3h0M238.9 176.4h0M242.4 210.5h0M246.4 257.5h0M249.4 309.4h0M257.7 53.8h0M258.1 57.3h0M258.6 60.8h0M259.5 64.6h0M262.1 73.6h0M266.5 87.5h0M265.6 96.8h0M267.4 98h0M269.1 99.4h0M265.1 101.7h0M266.7 113.9h0M269.3 130h0M271.4 147.1h0M273.7 169.1h0M275.6 192h0M276.3 215.6h0M278.4 251.2h0M281 297.4h0M292.4 61.1h0M293.3 65.7h0M295 72.5h0M297.3 81.3h0M297.8 87h0M297.1 89.3h0M297.1 93.6h0M298.3 101h0M299.7 112h0M302 127.4h0M304.4 145.7h0M304.8 160h0M305.1 174.5h0M306.9 201.6h0M310.9 244.9h0M315.8 309.4h0M326.6 66.4h0M327.8 71.7h0M328.7 76.6h0M329.5 81.5h0M330.1 87.7h0M331.5 95.7h0M332.2 103.4h0M332.4 110.4h0M333.6 122.1h0M336.1 140.3h0M338 160h0M339.6 181.5h0M341.7 210.5h0M347.3 260.5h0M355.8 41h0M361.6 77.4h0M362.5 97.5h0M366 115.5h0M370.2 138.4h0M371.4 154.5h0M371.1 165.4h0M372.5 188.3h0M377.2 232.2h0M383.5 299.3h0M390.9 41.5h0M390.7 48.9h0M393.6 65.2h0M393.1 70.4h0M395.9 80.5h0M397.3 88.4h0M397.5 93.6h0M398.2 100.1h0M398.7 107.1h0M399.6 117.4h0M402.4 135.6h0M404.1 152.9h0M403.3 159.3h0M404.3 181h0M410.4 232.2h0M425.7 67.8h0M426.4 73.1h0M426.9 78h0M427.8 83h0M428.8 90h0M430.2 98.7h0M431.4 108.5h0M432.8 121.4h0M434.9 136.8h0M434.2 144.7h0M433.5 154.8h0M438.2 193.2h0M447.5 267.5h0M452.5 29.5h0M453.9 30.9h0M455.3 32.3h0M456.3 33.8h0M457.3 35.3h0M455.9 37.9h0M456.6 38.6h0M458.7 39.3h0M458 40.3h0M457.3 41.3h0M462.2 41.9h0M458.5 43h0M457.7 44.8h0M458.5 45.5h0M459.4 46.2h0M459.9 48h0M459.9 50h0M460.2 51.3h0M460.5 52.6h0M460 54h0M459.4 55.2h0M460 56.5h0M460.5 57.8h0M460.9 59.5h0M461.3 61.3h0M462.5 65.6h0M462.5 68.2h0M461.7 71.1h0M461.7 75.5h0M463.5 83.3h0M465.5 92.1h0M465.5 96.8h0M464.4 100.1h0M465.5 107.1h0M466.7 119.7h0M468.6 134.7h0M467.9 140.3h0M466.9 148.2h0M470.2 178.7h0M477.2 235.3h0M494.4 60.8h0M495.4 64.3h0M495.2 73.6h0M499.6 75.3h0M495.8 78h0M498.6 77.5h0M495.8 81.7h0M501.4 81.7h0M496.4 86.5h0M496.4 90.5h0M497.3 98.2h0M498.5 107.1h0M499.6 117.1h0M501.7 134.4h0M505.5 159.6h0M507.3 181.7h0M511.5 218.2h0M518.9 279.7h0M527.3 61.7h0M530.8 70.4h0M528.2 72.6h0M529.7 74.3h0M532 76h0M529.4 78.7h0M530.6 85.1h0M530.1 88.6h0M529.9 92.4h0M529.9 97.1h0M531.6 107.1h0M533 118.3h0M537.2 142.1h0M543.5 179.9h0M550.2 224.7h0M553.5 261h0M559.7 67.4h0M560.6 72.7h0M562 79.4h0M563.3 85.8h0M564.3 92.4h0M565.7 102h0M566.6 110.4h0M567.5 120.2h0M570.1 136.3h0M574.1 161.6h0M580.4 201.6h0M586.7 249.1h0M593 71.3h0M594.5 79.2h0M596.5 87h0M597.7 95.4h0M598.8 103.6h0M599.5 111.5h0M600.5 121.6h0M604.2 143.3h0M609.6 177.8h0M616.8 224.7h0M626.4 292.1h0" stroke-width="3.2"/></g>
<g stroke="#111" stroke-width="1.5" fill="none">
<path d="M29.9 13.8 V312.9 H628"/>
</g>
<g stroke="#111" stroke-width="1.3" fill="none">
<path d="M29.9 14.4h9.5M29.9 26.4h6.2M29.9 38.3h6.2M29.9 50.3h6.2M29.9 62.2h6.2M29.9 74.1h9.5M29.9 86.1h6.2M29.9 98h6.2M29.9 109.9h6.2M29.9 121.9h6.2M29.9 133.8h9.5M29.9 145.7h6.2M29.9 157.7h6.2M29.9 169.6h6.2M29.9 181.6h6.2M29.9 193.5h9.5M29.9 205.4h6.2M29.9 217.4h6.2M29.9 229.3h6.2M29.9 241.2h6.2M29.9 253.2h9.5M29.9 265.1h6.2M29.9 277h6.2M29.9 289h6.2M29.9 300.9h6.2M46.5 312.9v-6.2M63.1 312.9v-6.2M79.7 312.9v-6.2M96.3 312.9v-6.2M112.9 312.9v-9.5M129.5 312.9v-6.2M146.2 312.9v-6.2M162.8 312.9v-6.2M179.4 312.9v-6.2M196 312.9v-9.5M212.6 312.9v-6.2M229.2 312.9v-6.2M245.9 312.9v-6.2M262.5 312.9v-6.2M279.1 312.9v-9.5M295.7 312.9v-6.2M312.3 312.9v-6.2M328.9 312.9v-6.2M345.6 312.9v-6.2M362.2 312.9v-9.5M378.8 312.9v-6.2M395.4 312.9v-6.2M412 312.9v-6.2M428.6 312.9v-6.2M445.3 312.9v-9.5M461.9 312.9v-6.2M478.5 312.9v-6.2M495.1 312.9v-6.2M511.7 312.9v-6.2M528.3 312.9v-9.5M545 312.9v-6.2M561.6 312.9v-6.2M578.2 312.9v-6.2M594.8 312.9v-6.2M611.4 312.9v-9.5M628 312.9v-6.2"/>
</g>
<text x="26.8" y="18.6" text-anchor="end">0</text>
<text x="26.8" y="78.3" text-anchor="end">20</text>
<text x="26.8" y="138" text-anchor="end">40</text>
<text x="26.8" y="197.7" text-anchor="end">60</text>
<text x="26.8" y="257.4" text-anchor="end">80</text>
<text x="26.8" y="317.1" text-anchor="end">100</text>
<text x="29.6" y="327.4" text-anchor="middle">0</text>
<text x="112.6" y="327.4" text-anchor="middle">50</text>
<text x="195.7" y="327.4" text-anchor="middle">100</text>
<text x="278.8" y="327.4" text-anchor="middle">150</text>
<text x="361.9" y="327.4" text-anchor="middle">200</text>
<text x="445" y="327.4" text-anchor="middle">250</text>
<text x="528" y="327.4" text-anchor="middle">300</text>
<text x="611.1" y="327.4" text-anchor="middle">350</text>
<text x="328.8" y="341.7" text-anchor="middle">Distance (m)</text>
<text transform="translate(11.2 164) rotate(-90)" text-anchor="middle">Depth (m)</text>
<text x="59.1" y="11.4" text-anchor="middle">W01</text>
<text x="93.6" y="11.4" text-anchor="middle">W02</text>
<text x="127.3" y="9.9" text-anchor="middle">W03</text>
<text x="159.3" y="11.4" text-anchor="middle">W04</text>
<text x="192.9" y="11.4" text-anchor="middle">W05</text>
<text x="225.7" y="12.1" text-anchor="middle">W06</text>
<text x="259.9" y="11.4" text-anchor="middle">W07</text>
<text x="293.2" y="11.4" text-anchor="middle">W08</text>
<text x="324.2" y="11.4" text-anchor="middle">W09</text>
<text x="359.2" y="11.4" text-anchor="middle">W10</text>
<text x="390.3" y="12.4" text-anchor="middle">W11</text>
<text x="425.3" y="12.4" text-anchor="middle">W12</text>
<text x="459.3" y="11.4" text-anchor="middle">W13</text>
<text x="490.7" y="11.4" text-anchor="middle">W14</text>
<text x="524.6" y="11.4" text-anchor="middle">W15</text>
<text x="559.3" y="12.4" text-anchor="middle">W16</text>
<text x="590.2" y="11.4" text-anchor="middle">W17</text>
<path d="M57.5 11.8h3.6l-1.8 2.9zM90.8 11.8h3.6l-1.8 2.9zM124.6 11.8h3.6l-1.8 2.9zM156.2 11.8h3.6l-1.8 2.9zM189.7 11.8h3.6l-1.8 2.9zM223.3 11.8h3.6l-1.8 2.9zM257.1 11.8h3.6l-1.8 2.9zM289.8 11.8h3.6l-1.8 2.9zM322.2 11.8h3.6l-1.8 2.9zM356.1 11.8h3.6l-1.8 2.9zM389.4 11.8h3.6l-1.8 2.9zM422.8 11.8h3.6l-1.8 2.9zM456.4 11.8h3.6l-1.8 2.9zM488.2 11.8h3.6l-1.8 2.9zM521.8 11.8h3.6l-1.8 2.9zM556.5 11.8h3.6l-1.8 2.9zM588.6 11.8h3.6l-1.8 2.9z" fill="#111"/>
<rect x="649.8" y="41.1" width="12" height="239.2" fill="url(#cb)" stroke="#555" stroke-width="0.4"/>
<path d="M649.8 239.2H661.8M649.8 198.2H661.8M649.8 157.1H661.8M649.8 116H661.8M649.8 75H661.8" stroke="#222" stroke-width="0.5" stroke-opacity="0.8" fill="none"/>
<text x="664.6" y="284.3">200</text>
<text x="664.6" y="263.8">250</text>
<text x="664.6" y="243.2">300</text>
<text x="664.6" y="222.7">350</text>
<text x="664.6" y="202.2">400</text>
<text x="664.6" y="181.6">450</text>
<text x="664.6" y="161.1">500</text>
<text x="664.6" y="140.6">550</text>
<text x="664.6" y="120">600</text>
<text x="664.6" y="99.5">650</text>
<text x="664.6" y="79">700</text>
<text x="664.6" y="58.4">750</text>
<text transform="translate(642.6 163.7) rotate(-90)" text-anchor="middle">Phase velocity (m/s)</text>
</svg></body></html>
